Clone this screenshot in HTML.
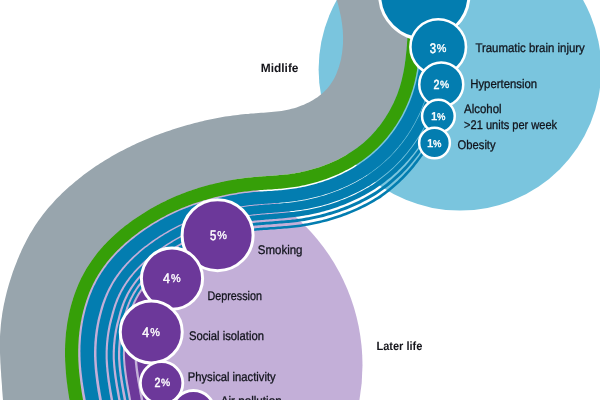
<!DOCTYPE html>
<html><head><meta charset="utf-8"><title>Risk factors</title>
<style>
html,body{margin:0;padding:0;background:#fff;}
body{width:600px;height:400px;overflow:hidden;font-family:"Liberation Sans",sans-serif;}
svg{display:block;}
text{text-rendering:geometricPrecision;}
</style></head><body>
<svg width="600" height="400" viewBox="0 0 600 400">
<rect width="600" height="400" fill="#fff"/>
<circle cx="164" cy="365.3" r="198.5" fill="#c3afd8"/>
<path d="M374.5,-8.9 L374.8,-7.4 L375.1,-5.9 L375.4,-4.4 L375.6,-2.9 L375.9,-1.4 L376.1,0.2 L376.3,1.7 L376.5,3.2 L376.7,4.8 L376.8,6.3 L377.0,7.9 L377.1,9.4 L377.2,11.0 L377.4,12.5 L377.4,14.1 L377.5,15.7 L377.6,17.2 L377.6,18.8 L377.7,20.4 L377.7,22.0 L377.7,23.6 L377.7,25.2 L377.7,26.8 L377.7,28.4 L377.7,30.0 L377.6,31.6 L377.6,33.3 L377.5,34.9 L377.4,36.5 L377.3,38.2 L377.2,39.8 L377.1,41.5 L377.0,43.2 L376.8,44.8 L376.7,46.5 L376.5,48.2 L376.4,49.8 L376.2,51.5 L376.0,53.1 L375.8,54.7 L375.6,56.3 L375.4,57.9 L375.2,59.5 L375.0,61.0 L374.7,62.5 L374.5,64.1 L374.2,65.6 L373.9,67.0 L373.6,68.5 L373.3,69.9 L372.9,71.4 L372.6,72.8 L372.2,74.1 L371.9,75.5 L371.5,76.9 L371.1,78.2 L370.6,79.5 L370.2,80.9 L369.7,82.2 L369.2,83.5 L368.7,84.8 L368.2,86.1 L367.6,87.4 L367.1,88.7 L366.5,90.0 L365.9,91.2 L365.3,92.5 L364.6,93.7 L364.0,95.0 L363.3,96.2 L362.6,97.4 L361.9,98.6 L361.1,99.8 L360.4,101.0 L359.6,102.1 L358.9,103.3 L358.1,104.4 L357.3,105.5 L356.4,106.7 L355.6,107.7 L354.7,108.8 L353.9,109.9 L353.0,110.9 L352.1,112.0 L351.2,113.0 L350.3,114.0 L349.3,114.9 L348.4,115.9 L347.4,116.8 L346.4,117.8 L345.5,118.7 L344.5,119.6 L343.4,120.4 L342.4,121.3 L341.3,122.1 L340.3,123.0 L339.2,123.8 L338.1,124.6 L336.9,125.4 L335.8,126.2 L334.6,126.9 L333.5,127.7 L332.3,128.4 L331.1,129.1 L329.8,129.9 L328.6,130.6 L327.4,131.2 L326.1,131.9 L324.8,132.6 L323.5,133.2 L322.2,133.8 L320.9,134.4 L319.5,135.0 L318.2,135.6 L316.8,136.1 L315.5,136.7 L314.1,137.2 L312.7,137.7 L311.3,138.2 L309.9,138.7 L308.5,139.2 L307.0,139.6 L305.6,140.1 L304.2,140.5 L302.7,140.9 L301.3,141.3 L299.8,141.6 L298.3,142.0 L296.8,142.3 L295.4,142.6 L293.9,142.9 L292.4,143.2 L290.9,143.5 L289.4,143.7 L287.9,144.0 L286.4,144.2 L284.9,144.4 L283.4,144.6 L281.8,144.8 L280.3,144.9 L278.7,145.1 L277.0,145.3 L275.4,145.4 L273.7,145.5 L272.0,145.7 L270.3,145.8 L268.5,145.9 L266.7,146.0 L264.9,146.1 L263.1,146.3 L261.2,146.4 L259.3,146.5 L257.4,146.7 L255.5,146.8 L253.5,147.0 L251.5,147.1 L249.5,147.3 L247.4,147.5 L245.4,147.7 L243.3,148.0 L241.2,148.2 L239.2,148.5 L237.1,148.8 L235.1,149.1 L233.1,149.4 L231.0,149.7 L229.0,150.0 L227.0,150.4 L224.9,150.7 L222.9,151.1 L220.9,151.5 L218.9,151.9 L216.9,152.3 L214.9,152.8 L212.9,153.2 L211.0,153.6 L209.0,154.1 L207.0,154.6 L205.0,155.1 L203.0,155.6 L201.1,156.1 L199.1,156.6 L197.1,157.2 L195.1,157.7 L193.2,158.3 L191.2,158.9 L189.2,159.5 L187.3,160.1 L185.3,160.7 L183.4,161.4 L181.4,162.0 L179.5,162.7 L177.5,163.4 L175.6,164.1 L173.6,164.8 L171.7,165.6 L169.8,166.3 L167.8,167.1 L165.9,167.9 L164.0,168.7 L162.1,169.5 L160.2,170.4 L158.3,171.2 L156.4,172.1 L154.5,173.0 L152.6,173.9 L150.7,174.8 L148.9,175.7 L147.0,176.6 L145.2,177.6 L143.3,178.6 L141.5,179.6 L139.7,180.6 L137.8,181.6 L136.0,182.6 L134.2,183.7 L132.4,184.7 L130.6,185.8 L128.9,186.9 L127.1,188.0 L125.3,189.1 L123.6,190.2 L121.8,191.4 L120.1,192.6 L118.3,193.8 L116.6,195.0 L114.9,196.2 L113.2,197.4 L111.5,198.7 L109.8,199.9 L108.1,201.2 L106.4,202.5 L104.7,203.8 L103.1,205.2 L101.4,206.5 L99.8,207.9 L98.2,209.3 L96.5,210.7 L94.9,212.2 L93.4,213.6 L91.8,215.1 L90.2,216.6 L88.7,218.1 L87.1,219.6 L85.6,221.2 L84.1,222.7 L82.6,224.3 L81.1,225.9 L79.6,227.5 L78.2,229.2 L76.8,230.8 L75.4,232.5 L74.0,234.2 L72.6,236.0 L71.2,237.7 L69.9,239.5 L68.6,241.3 L67.3,243.1 L66.0,244.9 L64.8,246.8 L63.6,248.6 L62.3,250.5 L61.2,252.5 L60.0,254.4 L58.9,256.3 L57.8,258.3 L56.7,260.3 L55.7,262.3 L54.7,264.3 L53.7,266.3 L52.7,268.3 L51.8,270.3 L50.9,272.4 L50.0,274.4 L49.2,276.5 L48.4,278.5 L47.6,280.6 L46.8,282.7 L46.1,284.7 L45.4,286.8 L44.7,288.9 L44.0,291.0 L43.4,293.1 L42.7,295.2 L42.2,297.4 L41.6,299.5 L41.1,301.6 L40.5,303.7 L40.1,305.9 L39.6,308.0 L39.1,310.1 L38.7,312.3 L38.3,314.4 L38.0,316.5 L37.6,318.7 L37.3,320.8 L37.0,323.0 L36.7,325.1 L36.4,327.3 L36.2,329.4 L36.0,331.5 L35.8,333.7 L35.6,335.8 L35.5,338.0 L35.3,340.1 L35.2,342.2 L35.1,344.4 L35.1,346.5 L35.0,348.6 L35.0,350.7 L35.0,352.8 L35.0,354.9 L35.0,357.0 L35.1,359.1 L35.1,361.1 L35.2,363.2 L35.3,365.3 L35.4,367.3 L35.6,369.4 L35.7,371.4 L35.8,373.5 L36.0,375.5 L36.2,377.5 L36.4,379.5 L36.6,381.5 L36.8,383.5 L37.1,385.5 L37.3,387.5 L37.6,389.5 L37.8,391.5 L38.1,393.5 L38.4,395.5 L38.7,397.4 L39.0,399.4 L39.3,401.3 L39.6,403.3 L39.9,405.2 L40.2,407.1 L40.6,409.1 L40.9,411.0 L41.3,412.9 L41.6,414.8 L42.0,416.7 L42.4,418.6 L42.7,420.5 L43.1,422.4 L43.5,424.3 L43.8,426.1 L44.2,428.0 L44.6,429.9 L45.0,431.7 L45.4,433.6 L45.8,435.4 L46.2,437.2 L46.6,439.1 L47.0,440.9 L47.3,442.7 L47.7,444.6 L48.1,446.4 L-20.0,440.0 L-20.0,-30.0 L374.5,-30.0Z" fill="#fff"/>
<circle cx="459.9" cy="69.3" r="141.3" fill="#7ac5de"/>
<path d="M332.4,-20.0 L332.8,-17.4 L333.2,-14.9 L333.7,-12.4 L334.3,-9.8 L334.9,-7.3 L335.5,-4.8 L336.2,-2.3 L336.8,0.2 L337.5,2.6 L338.2,5.1 L338.8,7.6 L339.4,10.1 L340.0,12.7 L340.6,15.2 L341.1,17.7 L341.5,20.2 L341.9,22.8 L342.2,25.3 L342.5,27.9 L342.8,30.5 L342.9,33.1 L343.0,35.6 L343.1,38.2 L343.0,40.8 L343.0,43.3 L342.8,45.9 L342.6,48.5 L342.3,51.0 L342.0,53.6 L341.5,56.2 L341.1,58.7 L340.5,61.2 L339.8,63.7 L339.1,66.2 L338.3,68.7 L337.4,71.1 L336.5,73.5 L335.4,75.9 L334.3,78.2 L333.0,80.4 L331.7,82.6 L330.2,84.7 L328.7,86.7 L327.1,88.7 L325.3,90.6 L323.5,92.3 L321.6,94.0 L319.6,95.6 L317.5,97.2 L315.3,98.6 L313.1,100.0 L310.9,101.3 L308.6,102.5 L306.2,103.6 L303.9,104.7 L301.5,105.6 L299.0,106.6 L296.6,107.4 L294.1,108.2 L291.6,108.8 L289.1,109.5 L286.6,110.0 L284.0,110.5 L281.5,110.9 L279.0,111.3 L276.4,111.6 L273.8,111.8 L271.3,112.1 L268.7,112.3 L266.1,112.5 L263.6,112.7 L261.0,112.8 L258.4,113.0 L255.9,113.2 L253.3,113.4 L250.7,113.6 L248.2,113.9 L245.6,114.1 L243.0,114.3 L240.5,114.6 L237.9,114.9 L235.4,115.2 L232.8,115.5 L230.2,115.9 L227.7,116.2 L225.2,116.6 L222.6,117.0 L220.1,117.5 L217.5,117.9 L215.0,118.4 L212.5,118.9 L209.9,119.5 L207.4,120.0 L204.9,120.6 L202.4,121.2 L199.9,121.8 L197.3,122.4 L194.8,123.0 L192.3,123.7 L189.8,124.4 L187.4,125.1 L184.9,125.8 L182.4,126.5 L179.9,127.3 L177.4,128.0 L175.0,128.8 L172.5,129.6 L170.1,130.4 L167.6,131.2 L165.2,132.1 L162.7,132.9 L160.3,133.8 L157.9,134.7 L155.5,135.6 L153.1,136.6 L150.7,137.5 L148.3,138.5 L145.9,139.5 L143.5,140.5 L141.2,141.5 L138.8,142.6 L136.5,143.6 L134.1,144.7 L131.8,145.8 L129.5,146.9 L127.2,148.1 L124.9,149.2 L122.6,150.4 L120.3,151.6 L118.0,152.8 L115.8,154.1 L113.5,155.3 L111.3,156.6 L109.1,157.9 L106.9,159.2 L104.7,160.6 L102.5,161.9 L100.3,163.3 L98.2,164.7 L96.0,166.1 L93.9,167.6 L91.8,169.0 L89.7,170.5 L87.6,172.0 L85.5,173.6 L83.4,175.1 L81.4,176.7 L79.4,178.3 L77.4,179.9 L75.3,181.5 L73.4,183.2 L71.4,184.9 L69.4,186.6 L67.5,188.3 L65.6,190.1 L63.7,191.8 L61.8,193.6 L60.0,195.4 L58.1,197.3 L56.3,199.1 L54.5,201.0 L52.8,202.9 L51.0,204.9 L49.3,206.8 L47.6,208.8 L46.0,210.8 L44.4,212.8 L42.8,214.8 L41.2,216.9 L39.7,219.0 L38.2,221.1 L36.7,223.2 L35.3,225.3 L33.9,227.5 L32.6,229.7 L31.2,231.9 L29.9,234.1 L28.7,236.3 L27.5,238.6 L26.2,240.9 L25.1,243.2 L23.9,245.5 L22.8,247.8 L21.7,250.1 L20.7,252.5 L19.6,254.8 L18.6,257.2 L17.6,259.6 L16.7,262.0 L15.7,264.4 L14.8,266.8 L13.9,269.2 L13.0,271.6 L12.2,274.1 L11.4,276.5 L10.6,279.0 L9.8,281.5 L9.0,283.9 L8.3,286.4 L7.6,288.9 L6.9,291.4 L6.3,293.9 L5.7,296.4 L5.1,298.9 L4.6,301.4 L4.0,304.0 L3.5,306.5 L3.1,309.0 L2.6,311.6 L2.2,314.1 L1.9,316.7 L1.5,319.2 L1.2,321.8 L0.9,324.3 L0.7,326.9 L0.5,329.5 L0.3,332.0 L0.1,334.6 L0.0,337.2 L-0.0,339.7 L-0.1,342.3 L-0.1,344.9 L-0.1,347.5 L-0.1,350.1 L0.0,352.7 L0.1,355.2 L0.2,357.8 L0.3,360.4 L0.4,363.0 L0.6,365.6 L0.7,368.2 L0.9,370.7 L1.1,373.3 L1.2,375.9 L1.4,378.5 L1.6,381.1 L1.8,383.6 L2.0,386.2 L2.1,388.8 L2.3,391.4 L2.5,393.9 L2.7,396.5 L2.9,399.1 L3.1,401.6 L3.4,404.2 L3.6,406.8 L3.8,409.3 L4.1,411.9 L4.4,414.4 L4.7,417.0 L4.9,419.6 L5.3,422.1 L5.6,424.7 L5.9,427.2 L6.3,429.8 L6.7,432.3 L7.1,434.9 L7.5,437.5 L8.0,440.0 L77.5,440.1 L77.1,438.3 L76.7,436.4 L76.3,434.6 L75.9,432.8 L75.5,431.0 L75.1,429.2 L74.7,427.4 L74.4,425.6 L74.0,423.8 L73.6,422.0 L73.2,420.1 L72.9,418.3 L72.5,416.5 L72.2,414.7 L71.8,412.9 L71.5,411.1 L71.1,409.3 L70.8,407.5 L70.4,405.6 L70.1,403.8 L69.8,402.0 L69.5,400.2 L69.2,398.4 L68.9,396.6 L68.6,394.7 L68.3,392.9 L68.1,391.1 L67.8,389.3 L67.5,387.5 L67.3,385.6 L67.1,383.8 L66.8,382.0 L66.6,380.2 L66.4,378.4 L66.2,376.5 L66.1,374.7 L65.9,372.9 L65.8,371.1 L65.6,369.2 L65.5,367.4 L65.4,365.6 L65.3,363.8 L65.2,361.9 L65.1,360.1 L65.1,358.3 L65.0,356.4 L65.0,354.6 L65.0,352.8 L65.0,350.9 L65.0,349.1 L65.1,347.3 L65.1,345.4 L65.2,343.6 L65.3,341.8 L65.4,339.9 L65.5,338.1 L65.7,336.2 L65.8,334.4 L66.0,332.6 L66.2,330.7 L66.5,328.9 L66.7,327.0 L67.0,325.2 L67.2,323.4 L67.5,321.5 L67.9,319.7 L68.2,317.9 L68.6,316.1 L68.9,314.2 L69.3,312.4 L69.7,310.6 L70.2,308.8 L70.6,307.0 L71.1,305.2 L71.6,303.4 L72.1,301.7 L72.7,299.9 L73.2,298.1 L73.8,296.4 L74.4,294.6 L75.0,292.9 L75.7,291.1 L76.3,289.4 L77.0,287.7 L77.7,286.0 L78.4,284.3 L79.2,282.6 L79.9,280.9 L80.7,279.3 L81.5,277.6 L82.4,276.0 L83.2,274.4 L84.1,272.8 L85.0,271.2 L85.9,269.6 L86.8,268.0 L87.8,266.4 L88.8,264.9 L89.8,263.4 L90.8,261.9 L91.8,260.4 L92.9,258.9 L94.0,257.4 L95.1,255.9 L96.2,254.5 L97.3,253.1 L98.5,251.6 L99.7,250.2 L100.9,248.8 L102.1,247.5 L103.3,246.1 L104.5,244.8 L105.8,243.4 L107.1,242.1 L108.4,240.8 L109.7,239.5 L111.0,238.2 L112.3,236.9 L113.7,235.7 L115.0,234.4 L116.4,233.2 L117.8,232.0 L119.2,230.8 L120.6,229.6 L122.0,228.4 L123.5,227.3 L124.9,226.1 L126.4,225.0 L127.9,223.9 L129.3,222.8 L130.8,221.7 L132.3,220.6 L133.8,219.5 L135.4,218.5 L136.9,217.4 L138.4,216.4 L140.0,215.4 L141.5,214.4 L143.1,213.4 L144.7,212.4 L146.2,211.4 L147.8,210.5 L149.4,209.5 L151.0,208.6 L152.6,207.7 L154.2,206.8 L155.8,205.9 L157.4,205.0 L159.1,204.2 L160.7,203.3 L162.3,202.5 L164.0,201.7 L165.7,200.9 L167.3,200.1 L169.0,199.3 L170.7,198.5 L172.3,197.8 L174.0,197.0 L175.7,196.3 L177.4,195.6 L179.1,194.9 L180.8,194.2 L182.5,193.6 L184.2,192.9 L185.9,192.3 L187.7,191.6 L189.4,191.0 L191.1,190.4 L192.9,189.8 L194.6,189.3 L196.4,188.7 L198.1,188.1 L199.9,187.6 L201.6,187.1 L203.4,186.6 L205.2,186.1 L207.0,185.6 L208.7,185.1 L210.5,184.6 L212.3,184.2 L214.1,183.7 L215.9,183.3 L217.7,182.9 L219.5,182.5 L221.3,182.1 L223.1,181.7 L224.9,181.3 L226.7,180.9 L228.6,180.6 L230.4,180.3 L232.2,179.9 L234.0,179.6 L235.8,179.3 L237.7,179.0 L239.5,178.7 L241.3,178.5 L243.1,178.2 L245.0,178.0 L246.8,177.8 L248.6,177.6 L250.5,177.4 L252.3,177.2 L254.1,177.0 L256.0,176.9 L257.8,176.7 L259.6,176.6 L261.4,176.5 L263.3,176.3 L265.1,176.2 L266.9,176.1 L268.7,176.0 L270.6,175.8 L272.4,175.7 L274.2,175.6 L276.0,175.4 L277.9,175.3 L279.7,175.1 L281.5,175.0 L283.3,174.8 L285.2,174.6 L287.0,174.4 L288.8,174.2 L290.6,173.9 L292.4,173.6 L294.3,173.4 L296.1,173.0 L297.9,172.7 L299.7,172.4 L301.5,172.0 L303.3,171.6 L305.1,171.2 L306.9,170.8 L308.7,170.3 L310.5,169.8 L312.3,169.3 L314.1,168.8 L315.9,168.3 L317.7,167.7 L319.4,167.2 L321.2,166.6 L322.9,165.9 L324.7,165.3 L326.4,164.6 L328.1,163.9 L329.8,163.2 L331.5,162.5 L333.2,161.8 L334.9,161.0 L336.6,160.2 L338.2,159.4 L339.9,158.6 L341.5,157.7 L343.1,156.8 L344.7,155.9 L346.3,155.0 L347.9,154.0 L349.4,153.1 L351.0,152.1 L352.5,151.1 L354.0,150.0 L355.5,149.0 L357.0,147.9 L358.5,146.8 L359.9,145.7 L361.4,144.5 L362.8,143.4 L364.2,142.2 L365.5,141.0 L366.9,139.7 L368.2,138.5 L369.5,137.2 L370.8,135.9 L372.1,134.6 L373.3,133.2 L374.6,131.8 L375.8,130.5 L376.9,129.1 L378.1,127.6 L379.3,126.2 L380.4,124.7 L381.5,123.3 L382.5,121.8 L383.6,120.3 L384.6,118.7 L385.6,117.2 L386.6,115.6 L387.6,114.1 L388.5,112.5 L389.4,110.9 L390.3,109.3 L391.2,107.6 L392.0,106.0 L392.9,104.3 L393.7,102.7 L394.4,101.0 L395.2,99.3 L395.9,97.6 L396.6,95.9 L397.3,94.2 L397.9,92.5 L398.5,90.7 L399.1,89.0 L399.7,87.2 L400.2,85.4 L400.7,83.7 L401.2,81.9 L401.7,80.1 L402.1,78.3 L402.5,76.5 L402.9,74.7 L403.3,72.9 L403.7,71.1 L404.0,69.3 L404.3,67.5 L404.6,65.7 L404.9,63.8 L405.1,62.0 L405.4,60.2 L405.6,58.3 L405.8,56.5 L406.0,54.7 L406.2,52.8 L406.4,51.0 L406.6,49.2 L406.7,47.3 L406.9,45.5 L407.0,43.6 L407.1,41.8 L407.3,40.0 L407.4,38.1 L407.5,36.3 L407.5,34.5 L407.6,32.6 L407.7,30.8 L407.7,28.9 L407.7,27.1 L407.7,25.3 L407.7,23.4 L407.7,21.6 L407.7,19.8 L407.6,17.9 L407.6,16.1 L407.5,14.3 L407.4,12.4 L407.3,10.6 L407.2,8.8 L407.0,6.9 L406.9,5.1 L406.7,3.3 L406.5,1.4 L406.3,-0.4 L406.0,-2.2 L405.8,-4.0 L405.5,-5.9 L405.2,-7.7 L404.9,-9.5 L404.6,-11.3 L404.3,-13.2 L403.9,-15.0Z" fill="#98a5ad"/>
<path d="M403.9,-15.0 L404.3,-13.2 L404.6,-11.3 L404.9,-9.5 L405.2,-7.7 L405.5,-5.9 L405.8,-4.0 L406.0,-2.2 L406.3,-0.4 L406.5,1.4 L406.7,3.3 L406.9,5.1 L407.0,6.9 L407.2,8.8 L407.3,10.6 L407.4,12.4 L407.5,14.3 L407.6,16.1 L407.6,17.9 L407.7,19.8 L407.7,21.6 L407.7,23.4 L407.7,25.3 L407.7,27.1 L407.7,28.9 L407.7,30.8 L407.6,32.6 L407.5,34.5 L407.5,36.3 L407.4,38.1 L407.3,40.0 L407.1,41.8 L407.0,43.6 L406.9,45.5 L406.7,47.3 L406.6,49.2 L406.4,51.0 L406.2,52.8 L406.0,54.7 L405.8,56.5 L405.6,58.3 L405.4,60.2 L405.1,62.0 L404.9,63.8 L404.6,65.7 L404.3,67.5 L404.0,69.3 L403.7,71.1 L403.3,72.9 L402.9,74.7 L402.5,76.5 L402.1,78.3 L401.7,80.1 L401.2,81.9 L400.7,83.7 L400.2,85.4 L399.7,87.2 L399.1,89.0 L398.5,90.7 L397.9,92.5 L397.3,94.2 L396.6,95.9 L395.9,97.6 L395.2,99.3 L394.4,101.0 L393.7,102.7 L392.9,104.3 L392.0,106.0 L391.2,107.6 L390.3,109.3 L389.4,110.9 L388.5,112.5 L387.6,114.1 L386.6,115.6 L385.6,117.2 L384.6,118.7 L383.6,120.3 L382.5,121.8 L381.5,123.3 L380.4,124.7 L379.3,126.2 L378.1,127.6 L376.9,129.1 L375.8,130.5 L374.6,131.8 L373.3,133.2 L372.1,134.6 L370.8,135.9 L369.5,137.2 L368.2,138.5 L366.9,139.7 L365.5,141.0 L364.2,142.2 L362.8,143.4 L361.4,144.5 L359.9,145.7 L358.5,146.8 L357.0,147.9 L355.5,149.0 L354.0,150.0 L352.5,151.1 L351.0,152.1 L349.4,153.1 L347.9,154.0 L346.3,155.0 L344.7,155.9 L343.1,156.8 L341.5,157.7 L339.9,158.6 L338.2,159.4 L336.6,160.2 L334.9,161.0 L333.2,161.8 L331.5,162.5 L329.8,163.2 L328.1,163.9 L326.4,164.6 L324.7,165.3 L322.9,165.9 L321.2,166.6 L319.4,167.2 L317.7,167.7 L315.9,168.3 L314.1,168.8 L312.3,169.3 L310.5,169.8 L308.7,170.3 L306.9,170.8 L305.1,171.2 L303.3,171.6 L301.5,172.0 L299.7,172.4 L297.9,172.7 L296.1,173.0 L294.3,173.4 L292.4,173.6 L290.6,173.9 L288.8,174.2 L287.0,174.4 L285.2,174.6 L283.3,174.8 L281.5,175.0 L279.7,175.1 L277.9,175.3 L276.0,175.4 L274.2,175.6 L272.4,175.7 L270.6,175.8 L268.7,176.0 L266.9,176.1 L265.1,176.2 L263.3,176.3 L261.4,176.5 L259.6,176.6 L257.8,176.7 L256.0,176.9 L254.1,177.0 L252.3,177.2 L250.5,177.4 L248.6,177.6 L246.8,177.8 L245.0,178.0 L243.1,178.2 L241.3,178.5 L239.5,178.7 L237.7,179.0 L235.8,179.3 L234.0,179.6 L232.2,179.9 L230.4,180.3 L228.6,180.6 L226.7,180.9 L224.9,181.3 L223.1,181.7 L221.3,182.1 L219.5,182.5 L217.7,182.9 L215.9,183.3 L214.1,183.7 L212.3,184.2 L210.5,184.6 L208.7,185.1 L207.0,185.6 L205.2,186.1 L203.4,186.6 L201.6,187.1 L199.9,187.6 L198.1,188.1 L196.4,188.7 L194.6,189.3 L192.9,189.8 L191.1,190.4 L189.4,191.0 L187.7,191.6 L185.9,192.3 L184.2,192.9 L182.5,193.6 L180.8,194.2 L179.1,194.9 L177.4,195.6 L175.7,196.3 L174.0,197.0 L172.3,197.8 L170.7,198.5 L169.0,199.3 L167.3,200.1 L165.7,200.9 L164.0,201.7 L162.3,202.5 L160.7,203.3 L159.1,204.2 L157.4,205.0 L155.8,205.9 L154.2,206.8 L152.6,207.7 L151.0,208.6 L149.4,209.5 L147.8,210.5 L146.2,211.4 L144.7,212.4 L143.1,213.4 L141.5,214.4 L140.0,215.4 L138.4,216.4 L136.9,217.4 L135.4,218.5 L133.8,219.5 L132.3,220.6 L130.8,221.7 L129.3,222.8 L127.9,223.9 L126.4,225.0 L124.9,226.1 L123.5,227.3 L122.0,228.4 L120.6,229.6 L119.2,230.8 L117.8,232.0 L116.4,233.2 L115.0,234.4 L113.7,235.7 L112.3,236.9 L111.0,238.2 L109.7,239.5 L108.4,240.8 L107.1,242.1 L105.8,243.4 L104.5,244.8 L103.3,246.1 L102.1,247.5 L100.9,248.8 L99.7,250.2 L98.5,251.6 L97.3,253.1 L96.2,254.5 L95.1,255.9 L94.0,257.4 L92.9,258.9 L91.8,260.4 L90.8,261.9 L89.8,263.4 L88.8,264.9 L87.8,266.4 L86.8,268.0 L85.9,269.6 L85.0,271.2 L84.1,272.8 L83.2,274.4 L82.4,276.0 L81.5,277.6 L80.7,279.3 L79.9,280.9 L79.2,282.6 L78.4,284.3 L77.7,286.0 L77.0,287.7 L76.3,289.4 L75.7,291.1 L75.0,292.9 L74.4,294.6 L73.8,296.4 L73.2,298.1 L72.7,299.9 L72.1,301.7 L71.6,303.4 L71.1,305.2 L70.6,307.0 L70.2,308.8 L69.7,310.6 L69.3,312.4 L68.9,314.2 L68.6,316.1 L68.2,317.9 L67.9,319.7 L67.5,321.5 L67.2,323.4 L67.0,325.2 L66.7,327.0 L66.5,328.9 L66.2,330.7 L66.0,332.6 L65.8,334.4 L65.7,336.2 L65.5,338.1 L65.4,339.9 L65.3,341.8 L65.2,343.6 L65.1,345.4 L65.1,347.3 L65.0,349.1 L65.0,350.9 L65.0,352.8 L65.0,354.6 L65.0,356.4 L65.1,358.3 L65.1,360.1 L65.2,361.9 L65.3,363.8 L65.4,365.6 L65.5,367.4 L65.6,369.2 L65.8,371.1 L65.9,372.9 L66.1,374.7 L66.2,376.5 L66.4,378.4 L66.6,380.2 L66.8,382.0 L67.1,383.8 L67.3,385.6 L67.5,387.5 L67.8,389.3 L68.1,391.1 L68.3,392.9 L68.6,394.7 L68.9,396.6 L69.2,398.4 L69.5,400.2 L69.8,402.0 L70.1,403.8 L70.4,405.6 L70.8,407.5 L71.1,409.3 L71.5,411.1 L71.8,412.9 L72.2,414.7 L72.5,416.5 L72.9,418.3 L73.2,420.1 L73.6,422.0 L74.0,423.8 L74.4,425.6 L74.7,427.4 L75.1,429.2 L75.5,431.0 L75.9,432.8 L76.3,434.6 L76.7,436.4 L77.1,438.3 L77.5,440.1 L90.6,437.2 L90.2,435.4 L89.8,433.6 L89.4,431.8 L89.0,430.0 L88.6,428.2 L88.2,426.4 L87.9,424.6 L87.5,422.8 L87.1,421.1 L86.7,419.3 L86.4,417.5 L86.0,415.7 L85.7,413.9 L85.3,412.1 L85.0,410.3 L84.6,408.6 L84.3,406.8 L84.0,405.0 L83.6,403.3 L83.3,401.5 L83.0,399.7 L82.7,398.0 L82.4,396.2 L82.1,394.4 L81.8,392.7 L81.5,390.9 L81.3,389.2 L81.0,387.4 L80.8,385.7 L80.5,383.9 L80.3,382.2 L80.1,380.4 L79.9,378.7 L79.7,377.0 L79.5,375.2 L79.3,373.5 L79.1,371.7 L79.0,370.0 L78.8,368.3 L78.7,366.6 L78.6,364.8 L78.5,363.1 L78.4,361.4 L78.3,359.6 L78.3,357.9 L78.2,356.2 L78.2,354.5 L78.2,352.8 L78.2,351.1 L78.2,349.3 L78.3,347.6 L78.3,345.9 L78.4,344.2 L78.5,342.5 L78.6,340.8 L78.7,339.1 L78.8,337.4 L79.0,335.7 L79.2,333.9 L79.3,332.2 L79.6,330.5 L79.8,328.8 L80.0,327.1 L80.3,325.4 L80.6,323.7 L80.8,322.0 L81.2,320.4 L81.5,318.7 L81.8,317.0 L82.2,315.3 L82.6,313.7 L83.0,312.0 L83.4,310.3 L83.9,308.7 L84.3,307.0 L84.8,305.4 L85.3,303.8 L85.8,302.2 L86.3,300.6 L86.9,299.0 L87.4,297.4 L88.0,295.8 L88.6,294.2 L89.2,292.6 L89.9,291.1 L90.5,289.6 L91.2,288.0 L91.9,286.5 L92.6,285.0 L93.3,283.5 L94.1,282.0 L94.9,280.6 L95.6,279.1 L96.4,277.7 L97.3,276.3 L98.1,274.8 L99.0,273.4 L99.9,272.1 L100.8,270.7 L101.7,269.3 L102.6,268.0 L103.6,266.6 L104.6,265.3 L105.6,264.0 L106.6,262.6 L107.6,261.3 L108.7,260.0 L109.7,258.8 L110.8,257.5 L111.9,256.2 L113.1,255.0 L114.2,253.8 L115.3,252.5 L116.5,251.3 L117.7,250.1 L118.9,248.9 L120.1,247.7 L121.4,246.6 L122.6,245.4 L123.9,244.2 L125.1,243.1 L126.4,242.0 L127.7,240.9 L129.1,239.8 L130.4,238.7 L131.7,237.6 L133.1,236.5 L134.4,235.5 L135.8,234.4 L137.2,233.4 L138.6,232.3 L140.0,231.3 L141.4,230.3 L142.9,229.3 L144.3,228.3 L145.7,227.4 L147.2,226.4 L148.7,225.5 L150.1,224.5 L151.6,223.6 L153.1,222.7 L154.6,221.8 L156.1,220.9 L157.6,220.1 L159.1,219.2 L160.6,218.3 L162.1,217.5 L163.7,216.7 L165.2,215.9 L166.7,215.1 L168.3,214.3 L169.8,213.5 L171.4,212.8 L173.0,212.0 L174.5,211.3 L176.1,210.6 L177.7,209.9 L179.3,209.2 L180.9,208.5 L182.5,207.8 L184.1,207.2 L185.7,206.5 L187.3,205.9 L188.9,205.3 L190.5,204.7 L192.2,204.1 L193.8,203.5 L195.4,203.0 L197.1,202.4 L198.7,201.9 L200.4,201.4 L202.1,200.9 L203.7,200.3 L205.4,199.9 L207.1,199.4 L208.8,198.9 L210.5,198.4 L212.2,198.0 L213.9,197.6 L215.6,197.1 L217.3,196.7 L219.0,196.3 L220.7,195.9 L222.4,195.5 L224.1,195.2 L225.9,194.8 L227.6,194.4 L229.3,194.1 L231.1,193.8 L232.8,193.5 L234.5,193.2 L236.3,192.9 L238.0,192.6 L239.7,192.3 L241.5,192.1 L243.2,191.8 L244.9,191.6 L246.7,191.4 L248.4,191.2 L250.1,191.0 L251.8,190.8 L253.6,190.6 L255.3,190.5 L257.1,190.3 L258.8,190.2 L260.6,190.1 L262.4,190.0 L264.2,189.8 L266.0,189.7 L267.8,189.6 L269.6,189.5 L271.5,189.4 L273.3,189.2 L275.2,189.1 L277.1,189.0 L279.0,188.8 L280.9,188.7 L282.8,188.5 L284.7,188.3 L286.7,188.1 L288.6,187.8 L290.6,187.6 L292.5,187.3 L294.5,187.0 L296.5,186.7 L298.4,186.4 L300.4,186.0 L302.3,185.6 L304.3,185.2 L306.3,184.8 L308.2,184.3 L310.2,183.8 L312.1,183.3 L314.0,182.8 L316.0,182.3 L317.9,181.7 L319.8,181.1 L321.7,180.5 L323.7,179.8 L325.6,179.2 L327.5,178.5 L329.4,177.8 L331.2,177.1 L333.1,176.3 L335.0,175.5 L336.8,174.7 L338.7,173.9 L340.5,173.0 L342.3,172.2 L344.1,171.3 L345.9,170.3 L347.7,169.4 L349.5,168.4 L351.3,167.4 L353.0,166.4 L354.8,165.3 L356.5,164.3 L358.2,163.2 L359.9,162.0 L361.6,160.9 L363.2,159.7 L364.9,158.5 L366.5,157.3 L368.1,156.0 L369.7,154.7 L371.2,153.4 L372.8,152.1 L374.3,150.7 L375.8,149.3 L377.3,147.9 L378.8,146.5 L380.2,145.0 L381.6,143.5 L383.0,142.0 L384.3,140.5 L385.7,139.0 L387.0,137.4 L388.3,135.8 L389.5,134.2 L390.8,132.6 L392.0,131.0 L393.2,129.3 L394.3,127.6 L395.5,125.9 L396.6,124.2 L397.7,122.5 L398.7,120.8 L399.8,119.0 L400.8,117.2 L401.8,115.5 L402.7,113.7 L403.6,111.8 L404.5,110.0 L405.4,108.2 L406.3,106.3 L407.1,104.5 L407.9,102.6 L408.7,100.7 L409.4,98.8 L410.1,96.9 L410.8,95.0 L411.4,93.1 L412.1,91.1 L412.7,89.2 L413.2,87.2 L413.8,85.3 L414.3,83.3 L414.8,81.3 L415.2,79.4 L415.6,77.4 L416.1,75.5 L416.4,73.5 L416.8,71.6 L417.1,69.6 L417.4,67.7 L417.7,65.7 L418.0,63.8 L418.3,61.8 L418.5,59.9 L418.7,58.0 L419.0,56.1 L419.2,54.1 L419.3,52.2 L419.5,50.3 L419.7,48.4 L419.8,46.5 L420.0,44.6 L420.1,42.7 L420.2,40.7 L420.3,38.8 L420.4,36.9 L420.5,35.0 L420.6,33.0 L420.6,31.1 L420.7,29.2 L420.7,27.2 L420.7,25.3 L420.7,23.4 L420.7,21.4 L420.7,19.5 L420.6,17.6 L420.6,15.6 L420.5,13.7 L420.4,11.7 L420.3,9.8 L420.1,7.8 L420.0,5.9 L419.8,3.9 L419.6,2.0 L419.4,0.0 L419.2,-1.9 L418.9,-3.9 L418.7,-5.9 L418.4,-7.8 L418.1,-9.8 L417.7,-11.7 L417.4,-13.7 L417.0,-15.7 L416.6,-17.6Z" fill="#369f08"/>
<path d="M418.1,-17.9 L418.5,-16.0 L418.9,-14.0 L419.2,-12.0 L419.6,-10.0 L419.9,-8.0 L420.2,-6.1 L420.4,-4.1 L420.7,-2.1 L420.9,-0.2 L421.1,1.8 L421.3,3.8 L421.5,5.7 L421.6,7.7 L421.8,9.7 L421.9,11.6 L422.0,13.6 L422.1,15.6 L422.1,17.5 L422.2,19.5 L422.2,21.4 L422.2,23.4 L422.2,25.3 L422.2,27.3 L422.2,29.2 L422.1,31.1 L422.1,33.1 L422.0,35.0 L421.9,37.0 L421.8,38.9 L421.7,40.8 L421.6,42.8 L421.5,44.7 L421.3,46.6 L421.2,48.5 L421.0,50.4 L420.8,52.4 L420.7,54.3 L420.5,56.2 L420.2,58.2 L420.0,60.1 L419.8,62.0 L419.5,64.0 L419.2,65.9 L418.9,67.9 L418.6,69.9 L418.3,71.8 L417.9,73.8 L417.5,75.8 L417.1,77.7 L416.7,79.7 L416.2,81.7 L415.7,83.7 L415.2,85.6 L414.7,87.6 L414.1,89.6 L413.5,91.6 L412.9,93.5 L412.2,95.5 L411.5,97.4 L410.8,99.3 L410.1,101.3 L409.3,103.2 L408.5,105.1 L407.6,106.9 L406.8,108.8 L405.9,110.7 L405.0,112.5 L404.0,114.4 L403.1,116.2 L402.1,118.0 L401.1,119.8 L400.0,121.5 L398.9,123.3 L397.8,125.0 L396.7,126.8 L395.6,128.5 L394.4,130.2 L393.2,131.8 L392.0,133.5 L390.7,135.1 L389.4,136.8 L388.1,138.4 L386.8,139.9 L385.5,141.5 L384.1,143.0 L382.7,144.6 L381.3,146.1 L379.8,147.5 L378.3,149.0 L376.8,150.4 L375.3,151.8 L373.8,153.2 L372.2,154.6 L370.6,155.9 L369.0,157.2 L367.4,158.5 L365.7,159.7 L364.1,160.9 L362.4,162.1 L360.7,163.3 L359.0,164.4 L357.3,165.5 L355.5,166.6 L353.8,167.7 L352.0,168.7 L350.2,169.7 L348.4,170.7 L346.6,171.7 L344.8,172.6 L343.0,173.5 L341.1,174.4 L339.3,175.3 L337.4,176.1 L335.6,176.9 L333.7,177.7 L331.8,178.5 L329.9,179.2 L328.0,179.9 L326.1,180.6 L324.1,181.3 L322.2,181.9 L320.3,182.5 L318.3,183.1 L316.4,183.7 L314.4,184.3 L312.5,184.8 L310.5,185.3 L308.5,185.8 L306.6,186.2 L304.6,186.7 L302.6,187.1 L300.7,187.5 L298.7,187.8 L296.7,188.2 L294.7,188.5 L292.7,188.8 L290.7,189.1 L288.8,189.3 L286.8,189.6 L284.9,189.8 L282.9,190.0 L281.0,190.2 L279.1,190.3 L277.2,190.5 L275.3,190.6 L273.5,190.8 L271.6,190.9 L269.7,191.0 L267.9,191.1 L266.1,191.2 L264.3,191.3 L262.5,191.5 L260.7,191.6 L258.9,191.7 L257.2,191.9 L255.4,192.0 L253.7,192.1 L252.0,192.3 L250.3,192.5 L248.6,192.7 L246.8,192.9 L245.1,193.1 L243.4,193.3 L241.7,193.6 L240.0,193.8 L238.2,194.1 L236.5,194.4 L234.8,194.7 L233.1,195.0 L231.4,195.3 L229.6,195.6 L227.9,196.0 L226.2,196.3 L224.5,196.7 L222.8,197.1 L221.0,197.4 L219.3,197.8 L217.6,198.2 L215.9,198.6 L214.2,199.1 L212.6,199.5 L210.9,200.0 L209.2,200.4 L207.5,200.9 L205.9,201.4 L204.2,201.9 L202.5,202.4 L200.9,202.9 L199.2,203.4 L197.6,203.9 L196.0,204.5 L194.3,205.0 L192.7,205.6 L191.1,206.2 L189.5,206.8 L187.9,207.4 L186.3,208.0 L184.7,208.7 L183.1,209.3 L181.5,210.0 L179.9,210.6 L178.3,211.3 L176.8,212.0 L175.2,212.7 L173.6,213.5 L172.1,214.2 L170.5,215.0 L169.0,215.7 L167.5,216.5 L165.9,217.3 L164.4,218.1 L162.9,219.0 L161.4,219.8 L159.9,220.6 L158.4,221.5 L156.9,222.4 L155.4,223.2 L154.0,224.1 L152.5,225.0 L151.0,226.0 L149.6,226.9 L148.1,227.8 L146.7,228.8 L145.2,229.8 L143.8,230.7 L142.4,231.7 L141.0,232.7 L139.6,233.7 L138.2,234.8 L136.9,235.8 L135.5,236.8 L134.2,237.9 L132.8,239.0 L131.5,240.0 L130.2,241.1 L128.9,242.2 L127.6,243.3 L126.3,244.4 L125.1,245.6 L123.8,246.7 L122.6,247.9 L121.4,249.0 L120.2,250.2 L119.0,251.4 L117.8,252.6 L116.7,253.8 L115.5,255.0 L114.4,256.2 L113.3,257.5 L112.2,258.7 L111.1,260.0 L110.1,261.2 L109.0,262.5 L108.0,263.8 L107.0,265.1 L106.1,266.4 L105.1,267.7 L104.1,269.0 L103.2,270.4 L102.3,271.7 L101.4,273.1 L100.6,274.4 L99.7,275.8 L98.9,277.2 L98.1,278.6 L97.3,280.0 L96.5,281.5 L95.8,282.9 L95.1,284.4 L94.3,285.8 L93.6,287.3 L93.0,288.8 L92.3,290.3 L91.7,291.9 L91.0,293.4 L90.4,294.9 L89.8,296.5 L89.3,298.0 L88.7,299.6 L88.2,301.2 L87.7,302.8 L87.2,304.4 L86.7,306.0 L86.2,307.6 L85.8,309.2 L85.4,310.8 L85.0,312.5 L84.6,314.1 L84.2,315.8 L83.8,317.4 L83.5,319.1 L83.2,320.7 L82.9,322.4 L82.6,324.1 L82.4,325.8 L82.1,327.4 L81.9,329.1 L81.7,330.8 L81.5,332.5 L81.3,334.2 L81.1,335.9 L81.0,337.5 L80.9,339.2 L80.8,340.9 L80.7,342.6 L80.6,344.3 L80.5,346.0 L80.5,347.7 L80.5,349.4 L80.4,351.1 L80.5,352.8 L80.5,354.5 L80.5,356.2 L80.6,357.9 L80.6,359.6 L80.7,361.3 L80.8,363.0 L80.9,364.7 L81.0,366.4 L81.2,368.1 L81.3,369.8 L81.5,371.5 L81.7,373.3 L81.9,375.0 L82.1,376.7 L82.3,378.4 L82.5,380.1 L82.7,381.9 L83.0,383.6 L83.2,385.3 L83.5,387.1 L83.8,388.8 L84.1,390.5 L84.3,392.3 L84.6,394.0 L85.0,395.8 L85.3,397.5 L85.6,399.3 L85.9,401.0 L86.2,402.8 L86.5,404.6 L86.8,406.3 L87.2,408.1 L87.5,409.9 L87.9,411.6 L88.2,413.4 L88.6,415.2 L88.9,417.0 L89.3,418.7 L89.7,420.5 L90.0,422.3 L90.4,424.1 L90.8,425.9 L91.2,427.7 L91.5,429.5 L91.9,431.3 L92.3,433.1 L92.7,434.9 L93.1,436.7 L106.0,433.9 L105.6,432.1 L105.2,430.3 L104.8,428.5 L104.5,426.7 L104.1,424.9 L103.7,423.2 L103.3,421.4 L103.0,419.6 L102.6,417.8 L102.2,416.1 L101.9,414.3 L101.5,412.6 L101.2,410.8 L100.8,409.1 L100.5,407.3 L100.1,405.6 L99.8,403.9 L99.5,402.2 L99.2,400.4 L98.9,398.7 L98.6,397.0 L98.3,395.3 L98.0,393.6 L97.7,391.9 L97.4,390.2 L97.2,388.6 L96.9,386.9 L96.7,385.2 L96.4,383.5 L96.2,381.9 L96.0,380.2 L95.8,378.6 L95.6,376.9 L95.4,375.3 L95.2,373.6 L95.0,372.0 L94.9,370.4 L94.7,368.8 L94.6,367.1 L94.5,365.5 L94.4,363.9 L94.3,362.3 L94.2,360.7 L94.1,359.1 L94.1,357.5 L94.0,355.9 L94.0,354.3 L94.0,352.8 L94.0,351.2 L94.1,349.6 L94.1,348.0 L94.2,346.5 L94.3,344.9 L94.3,343.4 L94.4,341.8 L94.6,340.3 L94.7,338.7 L94.9,337.2 L95.0,335.6 L95.2,334.1 L95.4,332.5 L95.6,331.0 L95.8,329.5 L96.1,327.9 L96.3,326.4 L96.6,324.9 L96.9,323.4 L97.2,321.9 L97.5,320.3 L97.9,318.8 L98.2,317.3 L98.6,315.9 L99.0,314.4 L99.4,312.9 L99.8,311.4 L100.2,310.0 L100.6,308.5 L101.0,307.1 L101.5,305.6 L101.9,304.2 L102.4,302.8 L102.9,301.4 L103.4,300.0 L104.0,298.6 L104.5,297.2 L105.1,295.9 L105.6,294.5 L106.2,293.2 L106.8,291.9 L107.5,290.5 L108.1,289.2 L108.7,288.0 L109.4,286.7 L110.1,285.4 L110.8,284.2 L111.5,283.0 L112.2,281.7 L113.0,280.5 L113.7,279.3 L114.5,278.1 L115.3,276.9 L116.1,275.7 L117.0,274.5 L117.9,273.4 L118.7,272.2 L119.6,271.0 L120.6,269.9 L121.5,268.7 L122.4,267.6 L123.4,266.4 L124.4,265.3 L125.4,264.2 L126.4,263.1 L127.5,262.0 L128.5,260.9 L129.6,259.8 L130.7,258.7 L131.8,257.6 L132.9,256.6 L134.0,255.5 L135.2,254.4 L136.3,253.4 L137.5,252.4 L138.7,251.3 L139.9,250.3 L141.1,249.3 L142.3,248.3 L143.6,247.3 L144.8,246.3 L146.1,245.4 L147.4,244.4 L148.7,243.4 L150.0,242.5 L151.3,241.6 L152.6,240.6 L153.9,239.7 L155.3,238.8 L156.6,237.9 L158.0,237.0 L159.4,236.1 L160.7,235.3 L162.1,234.4 L163.5,233.6 L164.9,232.8 L166.3,231.9 L167.7,231.1 L169.1,230.3 L170.5,229.5 L171.9,228.8 L173.4,228.0 L174.8,227.3 L176.2,226.5 L177.7,225.8 L179.1,225.1 L180.6,224.4 L182.0,223.7 L183.5,223.0 L185.0,222.4 L186.5,221.7 L188.0,221.1 L189.5,220.5 L191.0,219.9 L192.5,219.3 L194.0,218.7 L195.5,218.1 L197.0,217.6 L198.5,217.0 L200.1,216.5 L201.6,216.0 L203.2,215.5 L204.7,215.0 L206.3,214.5 L207.9,214.0 L209.4,213.5 L211.0,213.1 L212.6,212.6 L214.2,212.2 L215.8,211.7 L217.4,211.3 L219.0,210.9 L220.6,210.5 L222.3,210.1 L223.9,209.7 L225.5,209.4 L227.2,209.0 L228.8,208.6 L230.4,208.3 L232.1,208.0 L233.7,207.7 L235.3,207.3 L237.0,207.0 L238.6,206.8 L240.3,206.5 L241.9,206.2 L243.5,206.0 L245.2,205.7 L246.8,205.5 L248.4,205.3 L250.0,205.1 L251.6,204.9 L253.3,204.8 L254.9,204.6 L256.5,204.4 L258.2,204.3 L259.9,204.2 L261.6,204.0 L263.4,203.9 L265.1,203.8 L266.9,203.7 L268.7,203.5 L270.6,203.4 L272.4,203.3 L274.3,203.1 L276.2,203.0 L278.2,202.9 L280.1,202.7 L282.1,202.5 L284.1,202.4 L286.1,202.2 L288.2,202.0 L290.3,201.7 L292.4,201.5 L294.5,201.2 L296.6,200.9 L298.7,200.6 L300.8,200.2 L303.0,199.8 L305.1,199.4 L307.2,199.0 L309.3,198.6 L311.4,198.1 L313.5,197.6 L315.6,197.1 L317.8,196.5 L319.9,196.0 L321.9,195.4 L324.0,194.8 L326.1,194.1 L328.2,193.4 L330.3,192.7 L332.4,192.0 L334.4,191.3 L336.5,190.5 L338.5,189.7 L340.6,188.8 L342.6,188.0 L344.6,187.1 L346.6,186.2 L348.7,185.2 L350.6,184.3 L352.6,183.3 L354.6,182.3 L356.6,181.2 L358.5,180.1 L360.5,179.0 L362.4,177.9 L364.3,176.7 L366.2,175.5 L368.1,174.2 L369.9,173.0 L371.8,171.7 L373.6,170.3 L375.4,169.0 L377.2,167.6 L379.0,166.2 L380.8,164.7 L382.5,163.2 L384.2,161.7 L385.9,160.1 L387.6,158.6 L389.2,157.0 L390.8,155.4 L392.4,153.7 L393.9,152.0 L395.4,150.3 L396.9,148.6 L398.4,146.9 L399.8,145.1 L401.3,143.4 L402.6,141.6 L404.0,139.7 L405.3,137.9 L406.6,136.1 L407.9,134.2 L409.1,132.3 L410.3,130.4 L411.5,128.4 L412.6,126.5 L413.8,124.5 L414.9,122.6 L415.9,120.6 L416.9,118.6 L417.9,116.5 L418.9,114.5 L419.9,112.5 L420.8,110.4 L421.7,108.3 L422.5,106.2 L423.3,104.1 L424.1,102.0 L424.9,99.9 L425.6,97.7 L426.3,95.6 L426.9,93.4 L427.6,91.3 L428.2,89.1 L428.7,87.0 L429.3,84.8 L429.8,82.7 L430.2,80.5 L430.7,78.4 L431.1,76.3 L431.5,74.2 L431.8,72.1 L432.2,70.0 L432.5,67.9 L432.8,65.8 L433.1,63.8 L433.3,61.7 L433.6,59.7 L433.8,57.6 L434.0,55.6 L434.2,53.6 L434.4,51.6 L434.5,49.6 L434.7,47.6 L434.8,45.6 L435.0,43.6 L435.1,41.6 L435.2,39.6 L435.3,37.6 L435.4,35.5 L435.5,33.5 L435.5,31.5 L435.6,29.4 L435.6,27.4 L435.6,25.4 L435.6,23.3 L435.6,21.2 L435.6,19.2 L435.5,17.1 L435.5,15.0 L435.4,13.0 L435.3,10.9 L435.1,8.8 L435.0,6.7 L434.8,4.6 L434.6,2.6 L434.4,0.5 L434.2,-1.6 L434.0,-3.7 L433.7,-5.8 L433.4,-8.0 L433.1,-10.1 L432.8,-12.2 L432.4,-14.3 L432.0,-16.4 L431.6,-18.5 L431.2,-20.6Z" fill="#037db0"/>
<path d="M431.8,-20.8 L432.2,-18.6 L432.6,-16.5 L433.0,-14.4 L433.4,-12.3 L433.7,-10.2 L434.0,-8.0 L434.3,-5.9 L434.6,-3.8 L434.8,-1.7 L435.0,0.4 L435.2,2.5 L435.4,4.6 L435.6,6.7 L435.7,8.8 L435.9,10.9 L436.0,12.9 L436.1,15.0 L436.1,17.1 L436.2,19.2 L436.2,21.2 L436.2,23.3 L436.2,25.4 L436.2,27.4 L436.2,29.5 L436.1,31.5 L436.1,33.5 L436.0,35.6 L435.9,37.6 L435.8,39.6 L435.7,41.7 L435.6,43.7 L435.4,45.7 L435.3,47.7 L435.1,49.7 L435.0,51.7 L434.8,53.7 L434.6,55.7 L434.4,57.7 L434.1,59.7 L433.9,61.8 L433.6,63.8 L433.4,65.9 L433.1,68.0 L432.8,70.1 L432.4,72.2 L432.1,74.3 L431.7,76.4 L431.3,78.5 L430.8,80.7 L430.3,82.8 L429.8,84.9 L429.3,87.1 L428.8,89.3 L428.2,91.4 L427.5,93.6 L426.9,95.8 L426.2,97.9 L425.4,100.1 L424.7,102.2 L423.9,104.3 L423.1,106.4 L422.2,108.5 L421.3,110.6 L420.4,112.7 L419.5,114.8 L418.5,116.8 L417.5,118.8 L416.4,120.8 L415.4,122.8 L414.3,124.8 L413.2,126.8 L412.0,128.8 L410.8,130.7 L409.6,132.6 L408.4,134.5 L407.1,136.4 L405.8,138.3 L404.5,140.1 L403.1,141.9 L401.7,143.7 L400.3,145.5 L398.8,147.3 L397.4,149.0 L395.9,150.7 L394.3,152.4 L392.8,154.1 L391.2,155.7 L389.6,157.4 L387.9,159.0 L386.3,160.5 L384.6,162.1 L382.8,163.6 L381.1,165.1 L379.3,166.6 L377.5,168.0 L375.7,169.4 L373.9,170.7 L372.1,172.1 L370.2,173.4 L368.4,174.7 L366.5,175.9 L364.6,177.1 L362.7,178.3 L360.7,179.4 L358.8,180.6 L356.8,181.7 L354.9,182.7 L352.9,183.8 L350.9,184.8 L348.9,185.8 L346.9,186.7 L344.9,187.6 L342.8,188.5 L340.8,189.4 L338.8,190.2 L336.7,191.1 L334.6,191.8 L332.6,192.6 L330.5,193.3 L328.4,194.0 L326.3,194.7 L324.2,195.4 L322.1,196.0 L320.0,196.6 L317.9,197.2 L315.8,197.8 L313.7,198.3 L311.6,198.8 L309.5,199.3 L307.3,199.7 L305.2,200.2 L303.1,200.6 L301.0,200.9 L298.8,201.3 L296.7,201.6 L294.6,201.9 L292.5,202.2 L290.4,202.5 L288.3,202.7 L286.2,202.9 L284.2,203.1 L282.2,203.3 L280.2,203.5 L278.2,203.7 L276.3,203.8 L274.4,204.0 L272.5,204.1 L270.6,204.3 L268.8,204.4 L267.0,204.5 L265.2,204.6 L263.4,204.8 L261.7,204.9 L260.0,205.1 L258.3,205.2 L256.6,205.4 L255.0,205.5 L253.3,205.7 L251.7,205.9 L250.1,206.1 L248.5,206.3 L246.9,206.5 L245.3,206.7 L243.7,206.9 L242.0,207.2 L240.4,207.5 L238.8,207.8 L237.2,208.0 L235.5,208.4 L233.9,208.7 L232.3,209.0 L230.6,209.3 L229.0,209.7 L227.4,210.0 L225.7,210.4 L224.1,210.8 L222.5,211.2 L220.9,211.6 L219.3,212.0 L217.7,212.4 L216.1,212.8 L214.5,213.3 L212.9,213.7 L211.3,214.2 L209.8,214.6 L208.2,215.1 L206.6,215.6 L205.1,216.1 L203.5,216.6 L202.0,217.1 L200.5,217.6 L198.9,218.2 L197.4,218.7 L195.9,219.3 L194.4,219.9 L192.9,220.5 L191.4,221.0 L189.9,221.7 L188.4,222.3 L187.0,222.9 L185.5,223.5 L184.0,224.2 L182.6,224.9 L181.1,225.6 L179.7,226.3 L178.2,227.0 L176.8,227.7 L175.4,228.5 L174.0,229.2 L172.6,230.0 L171.2,230.8 L169.8,231.6 L168.4,232.4 L167.0,233.2 L165.6,234.0 L164.2,234.8 L162.9,235.7 L161.5,236.5 L160.1,237.4 L158.8,238.3 L157.5,239.2 L156.1,240.1 L154.8,241.0 L153.5,241.9 L152.2,242.9 L150.9,243.8 L149.6,244.7 L148.3,245.7 L147.1,246.7 L145.8,247.6 L144.6,248.6 L143.4,249.6 L142.1,250.6 L141.0,251.6 L139.8,252.6 L138.6,253.7 L137.4,254.7 L136.3,255.7 L135.2,256.8 L134.1,257.8 L133.0,258.9 L131.9,260.0 L130.8,261.1 L129.8,262.1 L128.8,263.2 L127.7,264.3 L126.7,265.4 L125.8,266.6 L124.8,267.7 L123.9,268.8 L122.9,269.9 L122.0,271.1 L121.1,272.2 L120.2,273.4 L119.4,274.5 L118.6,275.7 L117.7,276.9 L116.9,278.0 L116.2,279.2 L115.4,280.4 L114.7,281.6 L113.9,282.8 L113.2,284.0 L112.5,285.2 L111.9,286.4 L111.2,287.7 L110.6,288.9 L109.9,290.2 L109.3,291.5 L108.7,292.8 L108.2,294.1 L107.6,295.4 L107.0,296.7 L106.5,298.1 L106.0,299.4 L105.5,300.8 L105.0,302.2 L104.5,303.5 L104.0,304.9 L103.6,306.4 L103.2,307.8 L102.8,309.2 L102.4,310.6 L102.0,312.1 L101.6,313.5 L101.2,315.0 L100.8,316.4 L100.5,317.9 L100.1,319.4 L99.8,320.8 L99.5,322.3 L99.2,323.8 L98.9,325.3 L98.7,326.8 L98.4,328.3 L98.2,329.8 L98.0,331.3 L97.8,332.8 L97.6,334.4 L97.4,335.9 L97.2,337.4 L97.1,338.9 L97.0,340.5 L96.9,342.0 L96.8,343.5 L96.7,345.0 L96.6,346.6 L96.6,348.1 L96.5,349.7 L96.5,351.2 L96.5,352.8 L96.5,354.3 L96.5,355.9 L96.6,357.4 L96.6,359.0 L96.7,360.6 L96.8,362.2 L96.9,363.8 L97.0,365.4 L97.1,366.9 L97.3,368.5 L97.4,370.2 L97.6,371.8 L97.8,373.4 L98.0,375.0 L98.2,376.6 L98.4,378.3 L98.6,379.9 L98.9,381.5 L99.1,383.2 L99.3,384.8 L99.6,386.5 L99.9,388.2 L100.2,389.8 L100.4,391.5 L100.7,393.2 L101.0,394.9 L101.3,396.5 L101.6,398.2 L101.9,399.9 L102.2,401.7 L102.6,403.4 L102.9,405.1 L103.2,406.8 L103.6,408.5 L103.9,410.3 L104.3,412.0 L104.6,413.8 L105.0,415.5 L105.3,417.3 L105.7,419.0 L106.1,420.8 L106.4,422.6 L106.8,424.4 L107.2,426.1 L107.6,427.9 L108.0,429.7 L108.3,431.5 L108.7,433.3 L117.1,431.5 L116.8,429.7 L116.4,427.9 L116.0,426.1 L115.6,424.3 L115.2,422.6 L114.9,420.8 L114.5,419.0 L114.1,417.3 L113.7,415.5 L113.4,413.8 L113.0,412.1 L112.7,410.3 L112.3,408.6 L112.0,406.9 L111.7,405.2 L111.3,403.5 L111.0,401.8 L110.7,400.1 L110.4,398.4 L110.1,396.7 L109.8,395.1 L109.5,393.4 L109.2,391.8 L109.0,390.1 L108.7,388.5 L108.5,386.9 L108.2,385.2 L108.0,383.6 L107.7,382.0 L107.5,380.4 L107.3,378.8 L107.1,377.2 L106.9,375.6 L106.8,374.1 L106.6,372.5 L106.4,370.9 L106.3,369.4 L106.2,367.8 L106.0,366.3 L105.9,364.8 L105.8,363.2 L105.7,361.7 L105.7,360.2 L105.6,358.7 L105.6,357.2 L105.6,355.7 L105.6,354.2 L105.6,352.8 L105.6,351.3 L105.7,349.8 L105.7,348.4 L105.8,346.9 L105.9,345.5 L106.0,344.0 L106.1,342.6 L106.2,341.1 L106.4,339.7 L106.5,338.3 L106.7,336.9 L106.9,335.4 L107.1,334.0 L107.3,332.6 L107.5,331.2 L107.8,329.8 L108.0,328.4 L108.3,327.0 L108.6,325.6 L108.9,324.2 L109.2,322.8 L109.5,321.5 L109.9,320.1 L110.2,318.7 L110.6,317.4 L111.0,316.1 L111.3,314.7 L111.6,313.4 L112.0,312.0 L112.4,310.7 L112.8,309.4 L113.2,308.1 L113.6,306.8 L114.0,305.6 L114.4,304.3 L114.9,303.0 L115.4,301.8 L115.8,300.6 L116.3,299.3 L116.8,298.1 L117.4,296.9 L117.9,295.7 L118.4,294.6 L119.0,293.4 L119.6,292.3 L120.2,291.2 L120.7,290.0 L121.4,288.9 L122.0,287.8 L122.6,286.8 L123.3,285.7 L124.0,284.6 L124.7,283.5 L125.4,282.4 L126.1,281.3 L126.9,280.3 L127.7,279.2 L128.5,278.1 L129.3,277.1 L130.1,276.0 L131.0,275.0 L131.8,273.9 L132.7,272.9 L133.6,271.8 L134.5,270.8 L135.5,269.8 L136.4,268.7 L137.4,267.7 L138.4,266.7 L139.4,265.7 L140.4,264.7 L141.4,263.7 L142.5,262.7 L143.5,261.7 L144.6,260.7 L145.7,259.8 L146.8,258.8 L147.9,257.8 L149.1,256.9 L150.2,255.9 L151.4,255.0 L152.6,254.1 L153.7,253.2 L154.9,252.2 L156.2,251.3 L157.4,250.4 L158.6,249.5 L159.9,248.6 L161.1,247.8 L162.4,246.9 L163.7,246.0 L164.9,245.2 L166.2,244.3 L167.5,243.5 L168.8,242.7 L170.1,241.9 L171.4,241.1 L172.8,240.3 L174.1,239.5 L175.4,238.8 L176.8,238.0 L178.1,237.3 L179.5,236.6 L180.8,235.8 L182.2,235.1 L183.5,234.4 L184.9,233.7 L186.3,233.1 L187.7,232.4 L189.1,231.8 L190.5,231.2 L191.9,230.6 L193.3,230.0 L194.7,229.4 L196.1,228.8 L197.6,228.2 L199.0,227.7 L200.4,227.1 L201.9,226.6 L203.4,226.1 L204.8,225.6 L206.3,225.1 L207.8,224.6 L209.3,224.1 L210.8,223.6 L212.3,223.2 L213.8,222.7 L215.3,222.3 L216.8,221.8 L218.4,221.4 L219.9,221.0 L221.4,220.6 L223.0,220.2 L224.5,219.8 L226.1,219.4 L227.7,219.0 L229.2,218.6 L230.8,218.3 L232.4,217.9 L234.0,217.6 L235.5,217.3 L237.1,217.0 L238.7,216.7 L240.3,216.4 L241.8,216.1 L243.4,215.9 L244.9,215.6 L246.5,215.4 L248.1,215.1 L249.6,214.9 L251.1,214.7 L252.7,214.5 L254.2,214.3 L255.8,214.2 L257.4,214.0 L259.0,213.9 L260.6,213.7 L262.3,213.6 L264.0,213.4 L265.8,213.3 L267.6,213.1 L269.4,213.0 L271.2,212.9 L273.1,212.7 L275.0,212.6 L276.9,212.4 L278.9,212.3 L280.9,212.1 L282.9,211.9 L285.0,211.7 L287.1,211.6 L289.2,211.4 L291.4,211.1 L293.6,210.9 L295.8,210.6 L298.0,210.3 L300.3,210.0 L302.5,209.7 L304.7,209.3 L307.0,208.9 L309.2,208.5 L311.4,208.0 L313.6,207.6 L315.9,207.1 L318.1,206.5 L320.3,206.0 L322.5,205.4 L324.7,204.8 L326.9,204.2 L329.1,203.5 L331.3,202.8 L333.5,202.1 L335.7,201.3 L337.9,200.6 L340.1,199.8 L342.3,198.9 L344.4,198.1 L346.6,197.2 L348.8,196.3 L350.9,195.3 L353.0,194.3 L355.2,193.3 L357.3,192.3 L359.4,191.2 L361.5,190.1 L363.6,189.0 L365.7,187.8 L367.7,186.6 L369.8,185.4 L371.8,184.1 L373.8,182.8 L375.8,181.4 L377.8,180.0 L379.7,178.6 L381.7,177.1 L383.6,175.6 L385.5,174.1 L387.4,172.5 L389.2,170.9 L391.1,169.3 L392.9,167.7 L394.7,166.0 L396.4,164.2 L398.1,162.5 L399.8,160.7 L401.5,158.9 L403.1,157.1 L404.7,155.3 L406.3,153.4 L407.8,151.6 L409.3,149.6 L410.8,147.7 L412.2,145.8 L413.6,143.8 L415.0,141.8 L416.4,139.8 L417.7,137.8 L419.0,135.8 L420.2,133.7 L421.5,131.6 L422.7,129.5 L423.8,127.4 L425.0,125.3 L426.1,123.2 L427.1,121.0 L428.2,118.8 L429.2,116.6 L430.1,114.4 L431.1,112.2 L432.0,110.0 L432.9,107.7 L433.7,105.5 L434.5,103.2 L435.3,100.9 L436.0,98.7 L436.7,96.4 L437.4,94.0 L438.0,91.7 L438.6,89.5 L439.2,87.2 L439.7,84.9 L440.2,82.7 L440.7,80.4 L441.1,78.2 L441.5,76.0 L441.9,73.8 L442.2,71.6 L442.6,69.4 L442.9,67.2 L443.2,65.1 L443.4,62.9 L443.7,60.8 L443.9,58.7 L444.1,56.7 L444.3,54.6 L444.5,52.5 L444.7,50.5 L444.9,48.4 L445.0,46.4 L445.2,44.3 L445.3,42.2 L445.4,40.1 L445.5,38.0 L445.6,35.9 L445.7,33.8 L445.7,31.7 L445.8,29.6 L445.8,27.5 L445.8,25.4 L445.8,23.2 L445.8,21.1 L445.8,19.0 L445.7,16.8 L445.6,14.7 L445.6,12.5 L445.4,10.3 L445.3,8.2 L445.2,6.0 L445.0,3.8 L444.8,1.6 L444.6,-0.6 L444.4,-2.8 L444.1,-5.0 L443.8,-7.2 L443.5,-9.4 L443.2,-11.6 L442.9,-13.8 L442.5,-16.0 L442.1,-18.3 L441.7,-20.5 L441.2,-22.7Z" fill="#037db0"/>
<path d="M441.9,-22.9 L442.3,-20.6 L442.8,-18.4 L443.2,-16.2 L443.5,-13.9 L443.9,-11.7 L444.2,-9.5 L444.5,-7.3 L444.8,-5.1 L445.1,-2.8 L445.3,-0.6 L445.5,1.6 L445.7,3.7 L445.9,5.9 L446.0,8.1 L446.1,10.3 L446.3,12.5 L446.3,14.6 L446.4,16.8 L446.5,19.0 L446.5,21.1 L446.5,23.2 L446.5,25.4 L446.5,27.5 L446.5,29.6 L446.4,31.8 L446.4,33.9 L446.3,36.0 L446.2,38.1 L446.1,40.2 L446.0,42.3 L445.9,44.3 L445.7,46.4 L445.6,48.5 L445.4,50.5 L445.2,52.6 L445.0,54.7 L444.8,56.7 L444.6,58.8 L444.4,60.9 L444.1,63.0 L443.9,65.2 L443.6,67.3 L443.3,69.5 L442.9,71.7 L442.6,73.9 L442.2,76.1 L441.8,78.3 L441.4,80.5 L440.9,82.8 L440.4,85.1 L439.9,87.3 L439.3,89.6 L438.7,91.9 L438.1,94.2 L437.4,96.6 L436.7,98.9 L435.9,101.2 L435.2,103.5 L434.4,105.7 L433.5,108.0 L432.7,110.3 L431.8,112.5 L430.8,114.7 L429.8,116.9 L428.8,119.1 L427.8,121.3 L426.7,123.5 L425.6,125.6 L424.5,127.8 L423.3,129.9 L422.1,132.0 L420.9,134.1 L419.6,136.2 L418.4,138.2 L417.0,140.3 L415.7,142.3 L414.3,144.3 L412.9,146.3 L411.4,148.2 L409.9,150.1 L408.4,152.1 L406.9,154.0 L405.3,155.8 L403.7,157.7 L402.1,159.5 L400.4,161.3 L398.7,163.1 L397.0,164.8 L395.2,166.6 L393.5,168.3 L391.6,170.0 L389.8,171.6 L387.9,173.2 L386.0,174.8 L384.1,176.3 L382.2,177.8 L380.3,179.3 L378.3,180.8 L376.3,182.2 L374.3,183.5 L372.3,184.9 L370.3,186.1 L368.2,187.4 L366.1,188.6 L364.0,189.8 L361.9,190.9 L359.8,192.0 L357.7,193.1 L355.6,194.2 L353.4,195.2 L351.3,196.2 L349.1,197.1 L347.0,198.0 L344.8,198.9 L342.6,199.8 L340.4,200.6 L338.3,201.5 L336.1,202.2 L333.9,203.0 L331.6,203.7 L329.4,204.4 L327.2,205.1 L325.0,205.7 L322.8,206.3 L320.6,206.9 L318.3,207.5 L316.1,208.0 L313.9,208.5 L311.6,209.0 L309.4,209.4 L307.1,209.9 L304.9,210.3 L302.7,210.6 L300.4,211.0 L298.2,211.3 L296.0,211.6 L293.7,211.9 L291.5,212.1 L289.3,212.3 L287.2,212.5 L285.1,212.7 L283.0,212.9 L281.0,213.1 L279.0,213.3 L277.0,213.4 L275.1,213.6 L273.2,213.8 L271.3,213.9 L269.4,214.1 L267.6,214.2 L265.9,214.3 L264.1,214.5 L262.4,214.6 L260.7,214.8 L259.1,214.9 L257.5,215.1 L255.9,215.3 L254.3,215.4 L252.8,215.6 L251.3,215.8 L249.7,216.0 L248.2,216.3 L246.7,216.5 L245.1,216.7 L243.6,217.0 L242.0,217.3 L240.5,217.5 L238.9,217.8 L237.3,218.1 L235.8,218.5 L234.2,218.8 L232.6,219.1 L231.1,219.5 L229.5,219.8 L227.9,220.2 L226.4,220.6 L224.8,221.0 L223.3,221.4 L221.7,221.8 L220.2,222.2 L218.7,222.6 L217.2,223.0 L215.6,223.5 L214.1,223.9 L212.6,224.4 L211.1,224.9 L209.7,225.3 L208.2,225.8 L206.7,226.3 L205.2,226.8 L203.8,227.3 L202.3,227.9 L200.9,228.4 L199.5,228.9 L198.0,229.5 L196.6,230.1 L195.2,230.6 L193.8,231.2 L192.4,231.8 L191.0,232.4 L189.6,233.1 L188.2,233.7 L186.9,234.3 L185.5,235.0 L184.1,235.7 L182.8,236.4 L181.4,237.1 L180.1,237.8 L178.8,238.6 L177.4,239.3 L176.1,240.1 L174.8,240.8 L173.5,241.6 L172.2,242.4 L170.9,243.2 L169.6,244.0 L168.3,244.8 L167.0,245.7 L165.8,246.5 L164.5,247.4 L163.2,248.2 L162.0,249.1 L160.8,250.0 L159.5,250.9 L158.3,251.8 L157.1,252.7 L155.9,253.6 L154.7,254.5 L153.5,255.4 L152.4,256.3 L151.2,257.3 L150.1,258.2 L149.0,259.2 L147.9,260.1 L146.8,261.1 L145.7,262.1 L144.7,263.0 L143.6,264.0 L142.6,265.0 L141.6,266.0 L140.6,267.0 L139.6,268.0 L138.6,269.0 L137.7,270.0 L136.8,271.0 L135.8,272.1 L134.9,273.1 L134.1,274.1 L133.2,275.1 L132.4,276.2 L131.5,277.2 L130.7,278.3 L129.9,279.3 L129.2,280.4 L128.4,281.4 L127.7,282.5 L127.0,283.5 L126.3,284.6 L125.6,285.7 L124.9,286.7 L124.3,287.8 L123.7,288.9 L123.1,290.0 L122.5,291.1 L121.9,292.1 L121.3,293.3 L120.8,294.4 L120.2,295.5 L119.7,296.7 L119.2,297.8 L118.7,299.0 L118.2,300.2 L117.8,301.4 L117.3,302.6 L116.8,303.8 L116.4,305.1 L116.0,306.3 L115.6,307.6 L115.2,308.8 L114.8,310.1 L114.4,311.4 L114.1,312.7 L113.7,314.0 L113.4,315.3 L113.1,316.6 L112.7,317.9 L112.3,319.3 L112.0,320.6 L111.7,321.9 L111.3,323.3 L111.0,324.6 L110.7,326.0 L110.4,327.4 L110.2,328.7 L109.9,330.1 L109.7,331.5 L109.4,332.9 L109.2,334.3 L109.0,335.7 L108.8,337.1 L108.7,338.5 L108.5,339.9 L108.4,341.3 L108.2,342.7 L108.1,344.1 L108.0,345.6 L107.9,347.0 L107.9,348.4 L107.8,349.8 L107.7,351.3 L107.7,352.7 L107.7,354.2 L107.7,355.7 L107.7,357.2 L107.7,358.6 L107.8,360.1 L107.9,361.6 L108.0,363.1 L108.1,364.6 L108.2,366.1 L108.3,367.7 L108.5,369.2 L108.6,370.7 L108.8,372.3 L109.0,373.8 L109.2,375.4 L109.4,377.0 L109.6,378.5 L109.8,380.1 L110.0,381.7 L110.3,383.3 L110.5,384.9 L110.8,386.5 L111.0,388.1 L111.3,389.7 L111.6,391.4 L111.9,393.0 L112.2,394.7 L112.5,396.3 L112.8,398.0 L113.1,399.7 L113.4,401.3 L113.7,403.0 L114.0,404.7 L114.4,406.4 L114.7,408.1 L115.0,409.9 L115.4,411.6 L115.7,413.3 L116.1,415.0 L116.5,416.8 L116.8,418.5 L117.2,420.3 L117.6,422.1 L118.0,423.8 L118.3,425.6 L118.7,427.4 L119.1,429.2 L119.5,431.0 L124.4,430.0 L124.0,428.2 L123.6,426.4 L123.2,424.6 L122.8,422.8 L122.5,421.0 L122.1,419.3 L121.7,417.5 L121.4,415.8 L121.0,414.0 L120.6,412.3 L120.3,410.6 L119.9,408.9 L119.6,407.2 L119.3,405.5 L118.9,403.8 L118.6,402.1 L118.3,400.4 L118.0,398.8 L117.7,397.1 L117.4,395.5 L117.1,393.8 L116.8,392.2 L116.5,390.6 L116.3,389.0 L116.0,387.4 L115.7,385.8 L115.5,384.2 L115.2,382.6 L115.0,381.0 L114.8,379.5 L114.5,377.9 L114.3,376.4 L114.1,374.8 L113.9,373.3 L113.8,371.8 L113.6,370.3 L113.5,368.8 L113.3,367.3 L113.2,365.8 L113.1,364.3 L113.0,362.8 L112.9,361.4 L112.8,359.9 L112.7,358.5 L112.7,357.0 L112.7,355.6 L112.7,354.2 L112.7,352.7 L112.7,351.3 L112.8,349.9 L112.9,348.5 L112.9,347.2 L113.0,345.8 L113.1,344.4 L113.2,343.0 L113.4,341.7 L113.5,340.3 L113.6,339.0 L113.8,337.6 L114.0,336.3 L114.2,334.9 L114.4,333.6 L114.6,332.2 L114.8,330.9 L115.1,329.6 L115.4,328.2 L115.6,326.9 L115.9,325.6 L116.2,324.3 L116.5,323.0 L116.9,321.7 L117.2,320.5 L117.6,319.2 L117.9,317.9 L118.2,316.7 L118.5,315.4 L118.9,314.2 L119.2,312.9 L119.5,311.7 L119.9,310.5 L120.3,309.3 L120.7,308.1 L121.1,306.9 L121.5,305.7 L121.9,304.5 L122.3,303.4 L122.8,302.2 L123.2,301.1 L123.7,300.0 L124.2,298.9 L124.7,297.8 L125.2,296.7 L125.7,295.7 L126.2,294.6 L126.8,293.6 L127.3,292.6 L127.9,291.5 L128.5,290.5 L129.1,289.5 L129.7,288.5 L130.3,287.5 L131.0,286.5 L131.7,285.5 L132.4,284.5 L133.1,283.5 L133.8,282.5 L134.6,281.5 L135.3,280.5 L136.1,279.5 L136.9,278.5 L137.8,277.5 L138.6,276.5 L139.5,275.5 L140.3,274.5 L141.2,273.6 L142.1,272.6 L143.1,271.6 L144.0,270.6 L145.0,269.7 L145.9,268.7 L146.9,267.8 L147.9,266.8 L149.0,265.9 L150.0,264.9 L151.0,264.0 L152.1,263.1 L153.2,262.2 L154.3,261.2 L155.4,260.3 L156.5,259.4 L157.7,258.5 L158.8,257.6 L160.0,256.7 L161.1,255.9 L162.3,255.0 L163.5,254.1 L164.7,253.3 L165.9,252.4 L167.2,251.6 L168.4,250.8 L169.6,249.9 L170.9,249.1 L172.1,248.3 L173.4,247.5 L174.6,246.8 L175.9,246.0 L177.2,245.2 L178.5,244.5 L179.8,243.8 L181.0,243.0 L182.3,242.3 L183.7,241.6 L185.0,240.9 L186.3,240.2 L187.6,239.6 L188.9,238.9 L190.3,238.3 L191.6,237.7 L193.0,237.1 L194.3,236.5 L195.7,235.9 L197.1,235.3 L198.4,234.8 L199.8,234.2 L201.2,233.7 L202.6,233.2 L204.0,232.6 L205.4,232.1 L206.9,231.6 L208.3,231.1 L209.7,230.7 L211.2,230.2 L212.6,229.7 L214.1,229.3 L215.5,228.8 L217.0,228.4 L218.5,228.0 L220.0,227.5 L221.5,227.1 L223.0,226.7 L224.5,226.3 L226.0,226.0 L227.5,225.6 L229.1,225.2 L230.6,224.9 L232.1,224.5 L233.7,224.2 L235.2,223.8 L236.7,223.5 L238.3,223.2 L239.8,222.9 L241.3,222.6 L242.8,222.4 L244.4,222.1 L245.9,221.9 L247.4,221.6 L248.9,221.4 L250.4,221.2 L251.9,221.0 L253.4,220.8 L254.9,220.6 L256.4,220.5 L257.9,220.3 L259.5,220.2 L261.1,220.0 L262.8,219.9 L264.5,219.7 L266.2,219.6 L268.0,219.4 L269.8,219.3 L271.6,219.2 L273.5,219.0 L275.4,218.9 L277.4,218.7 L279.4,218.5 L281.4,218.4 L283.5,218.2 L285.6,218.0 L287.7,217.8 L289.9,217.6 L292.1,217.3 L294.4,217.1 L296.7,216.8 L299.0,216.5 L301.3,216.1 L303.6,215.7 L305.9,215.3 L308.2,214.9 L310.4,214.5 L312.7,214.0 L315.0,213.5 L317.3,213.0 L319.6,212.4 L321.9,211.8 L324.2,211.2 L326.4,210.6 L328.7,209.9 L331.0,209.2 L333.2,208.5 L335.5,207.7 L337.8,206.9 L340.0,206.1 L342.3,205.3 L344.5,204.4 L346.7,203.5 L349.0,202.6 L351.2,201.6 L353.4,200.6 L355.6,199.6 L357.8,198.5 L360.0,197.4 L362.1,196.3 L364.3,195.2 L366.4,194.0 L368.6,192.8 L370.7,191.5 L372.8,190.2 L374.9,188.9 L377.0,187.5 L379.1,186.1 L381.1,184.7 L383.1,183.2 L385.1,181.7 L387.1,180.1 L389.1,178.6 L391.1,176.9 L393.0,175.3 L394.9,173.6 L396.8,171.9 L398.6,170.1 L400.5,168.3 L402.2,166.5 L404.0,164.7 L405.7,162.8 L407.4,161.0 L409.1,159.1 L410.7,157.1 L412.3,155.2 L413.9,153.2 L415.4,151.2 L416.9,149.2 L418.4,147.2 L419.8,145.1 L421.2,143.0 L422.6,140.9 L423.9,138.8 L425.2,136.7 L426.5,134.5 L427.7,132.4 L428.9,130.2 L430.1,128.0 L431.2,125.7 L432.3,123.5 L433.4,121.3 L434.4,119.0 L435.4,116.7 L436.4,114.4 L437.3,112.1 L438.2,109.8 L439.1,107.5 L439.9,105.1 L440.7,102.7 L441.5,100.4 L442.2,98.0 L442.9,95.6 L443.5,93.2 L444.1,90.9 L444.7,88.5 L445.3,86.2 L445.8,83.8 L446.3,81.5 L446.7,79.2 L447.1,77.0 L447.5,74.7 L447.9,72.4 L448.2,70.2 L448.5,68.0 L448.8,65.8 L449.1,63.6 L449.3,61.5 L449.6,59.3 L449.8,57.2 L450.0,55.1 L450.2,53.0 L450.4,51.0 L450.6,48.9 L450.7,46.8 L450.9,44.7 L451.0,42.6 L451.1,40.4 L451.2,38.3 L451.3,36.2 L451.4,34.0 L451.4,31.9 L451.5,29.7 L451.5,27.6 L451.5,25.4 L451.5,23.2 L451.5,21.0 L451.5,18.8 L451.4,16.7 L451.3,14.4 L451.2,12.2 L451.1,10.0 L451.0,7.8 L450.9,5.6 L450.7,3.3 L450.5,1.1 L450.3,-1.1 L450.0,-3.4 L449.8,-5.7 L449.5,-7.9 L449.2,-10.2 L448.8,-12.5 L448.5,-14.7 L448.1,-17.0 L447.7,-19.3 L447.3,-21.6 L446.8,-23.9Z" fill="#037db0"/>
<path d="M447.8,-24.1 L448.2,-21.8 L448.7,-19.5 L449.1,-17.2 L449.5,-14.9 L449.8,-12.6 L450.2,-10.3 L450.5,-8.0 L450.8,-5.8 L451.0,-3.5 L451.3,-1.2 L451.5,1.0 L451.7,3.3 L451.8,5.5 L452.0,7.7 L452.1,10.0 L452.2,12.2 L452.3,14.4 L452.4,16.6 L452.5,18.8 L452.5,21.0 L452.5,23.2 L452.5,25.4 L452.5,27.6 L452.5,29.7 L452.4,31.9 L452.4,34.1 L452.3,36.2 L452.2,38.4 L452.1,40.5 L452.0,42.6 L451.9,44.7 L451.7,46.8 L451.5,48.9 L451.4,51.0 L451.2,53.1 L451.0,55.2 L450.8,57.3 L450.6,59.5 L450.3,61.6 L450.1,63.8 L449.8,65.9 L449.5,68.1 L449.2,70.4 L448.9,72.6 L448.5,74.9 L448.1,77.1 L447.7,79.4 L447.2,81.7 L446.8,84.0 L446.2,86.4 L445.7,88.7 L445.1,91.1 L444.5,93.5 L443.8,95.9 L443.1,98.3 L442.4,100.7 L441.7,103.1 L440.9,105.4 L440.1,107.8 L439.2,110.2 L438.3,112.5 L437.4,114.8 L436.4,117.2 L435.4,119.5 L434.4,121.7 L433.3,124.0 L432.2,126.3 L431.1,128.5 L429.9,130.7 L428.7,133.0 L427.5,135.1 L426.3,137.3 L425.0,139.5 L423.6,141.6 L422.3,143.7 L420.9,145.8 L419.5,147.9 L418.0,150.0 L416.5,152.1 L415.0,154.1 L413.5,156.1 L411.9,158.1 L410.3,160.1 L408.7,162.1 L407.0,164.0 L405.3,165.9 L403.5,167.8 L401.8,169.6 L399.9,171.5 L398.1,173.3 L396.2,175.0 L394.3,176.8 L392.4,178.5 L390.4,180.2 L388.5,181.8 L386.5,183.4 L384.5,185.0 L382.4,186.5 L380.4,188.0 L378.3,189.5 L376.2,190.9 L374.1,192.2 L372.0,193.6 L369.8,194.8 L367.6,196.1 L365.4,197.3 L363.3,198.4 L361.0,199.6 L358.8,200.7 L356.6,201.7 L354.4,202.8 L352.1,203.8 L349.9,204.8 L347.6,205.7 L345.4,206.6 L343.1,207.5 L340.8,208.3 L338.6,209.2 L336.3,209.9 L334.0,210.7 L331.7,211.4 L329.4,212.1 L327.1,212.8 L324.8,213.5 L322.5,214.1 L320.2,214.7 L317.9,215.2 L315.6,215.8 L313.2,216.3 L310.9,216.8 L308.6,217.2 L306.3,217.6 L304.0,218.0 L301.6,218.4 L299.3,218.8 L297.0,219.1 L294.7,219.4 L292.4,219.6 L290.2,219.9 L288.0,220.1 L285.8,220.3 L283.7,220.5 L281.6,220.6 L279.6,220.8 L277.6,221.0 L275.6,221.1 L273.7,221.3 L271.8,221.4 L269.9,221.5 L268.1,221.7 L266.4,221.8 L264.6,221.9 L262.9,222.1 L261.3,222.2 L259.7,222.3 L258.1,222.5 L256.6,222.6 L255.1,222.8 L253.6,223.0 L252.1,223.1 L250.7,223.3 L249.2,223.5 L247.7,223.7 L246.2,224.0 L244.7,224.2 L243.2,224.5 L241.7,224.7 L240.2,225.0 L238.6,225.3 L237.1,225.6 L235.6,225.9 L234.1,226.2 L232.6,226.5 L231.0,226.8 L229.5,227.2 L228.0,227.5 L226.5,227.9 L225.0,228.3 L223.5,228.7 L222.0,229.1 L220.5,229.5 L219.0,229.9 L217.5,230.3 L216.1,230.7 L214.6,231.1 L213.2,231.6 L211.7,232.0 L210.3,232.5 L208.9,233.0 L207.5,233.4 L206.0,233.9 L204.6,234.4 L203.2,234.9 L201.9,235.4 L200.5,236.0 L199.1,236.5 L197.7,237.0 L196.4,237.6 L195.0,238.2 L193.7,238.7 L192.3,239.3 L191.0,239.9 L189.7,240.5 L188.4,241.2 L187.1,241.9 L185.8,242.5 L184.5,243.2 L183.2,243.9 L181.9,244.7 L180.6,245.4 L179.3,246.1 L178.1,246.9 L176.8,247.6 L175.6,248.4 L174.3,249.2 L173.1,249.9 L171.8,250.7 L170.6,251.5 L169.4,252.4 L168.2,253.2 L167.0,254.0 L165.8,254.9 L164.6,255.7 L163.4,256.6 L162.2,257.4 L161.1,258.3 L159.9,259.2 L158.8,260.1 L157.7,261.0 L156.6,261.9 L155.5,262.8 L154.4,263.7 L153.3,264.6 L152.3,265.5 L151.2,266.4 L150.2,267.4 L149.2,268.3 L148.2,269.2 L147.3,270.2 L146.3,271.1 L145.4,272.1 L144.4,273.0 L143.5,274.0 L142.6,275.0 L141.8,275.9 L140.9,276.9 L140.1,277.9 L139.3,278.8 L138.5,279.8 L137.7,280.8 L136.9,281.8 L136.2,282.8 L135.4,283.7 L134.7,284.7 L134.0,285.7 L133.3,286.7 L132.7,287.7 L132.0,288.7 L131.4,289.7 L130.8,290.7 L130.2,291.7 L129.7,292.7 L129.1,293.6 L128.6,294.6 L128.1,295.7 L127.6,296.7 L127.1,297.7 L126.6,298.8 L126.1,299.8 L125.6,300.9 L125.2,302.0 L124.7,303.1 L124.3,304.2 L123.9,305.4 L123.5,306.5 L123.1,307.7 L122.7,308.8 L122.3,310.0 L122.0,311.2 L121.6,312.4 L121.3,313.6 L120.9,314.8 L120.6,316.0 L120.3,317.3 L120.0,318.5 L119.7,319.8 L119.3,321.0 L119.0,322.2 L118.7,323.5 L118.4,324.8 L118.1,326.1 L117.8,327.3 L117.5,328.6 L117.2,329.9 L117.0,331.2 L116.8,332.5 L116.5,333.9 L116.3,335.2 L116.1,336.5 L115.9,337.8 L115.8,339.2 L115.6,340.5 L115.5,341.8 L115.4,343.2 L115.2,344.5 L115.1,345.9 L115.1,347.2 L115.0,348.6 L114.9,350.0 L114.9,351.4 L114.8,352.7 L114.8,354.1 L114.8,355.6 L114.8,357.0 L114.8,358.4 L114.9,359.8 L115.0,361.3 L115.1,362.7 L115.2,364.2 L115.3,365.6 L115.5,367.1 L115.6,368.6 L115.8,370.1 L116.0,371.6 L116.2,373.1 L116.4,374.6 L116.6,376.1 L116.8,377.6 L117.0,379.2 L117.3,380.7 L117.5,382.3 L117.8,383.8 L118.0,385.4 L118.3,387.0 L118.6,388.6 L118.9,390.2 L119.2,391.8 L119.5,393.4 L119.7,395.0 L120.0,396.7 L120.3,398.3 L120.7,400.0 L121.0,401.6 L121.3,403.3 L121.6,405.0 L122.0,406.7 L122.3,408.4 L122.6,410.1 L123.0,411.8 L123.3,413.5 L123.7,415.3 L124.1,417.0 L124.4,418.8 L124.8,420.5 L125.2,422.3 L125.6,424.1 L126.0,425.9 L126.3,427.7 L126.7,429.5 L129.7,428.8 L129.3,427.0 L128.9,425.2 L128.5,423.5 L128.1,421.7 L127.7,419.9 L127.4,418.2 L127.0,416.4 L126.6,414.7 L126.3,412.9 L125.9,411.2 L125.6,409.5 L125.2,407.8 L124.9,406.1 L124.6,404.4 L124.2,402.7 L123.9,401.1 L123.6,399.4 L123.3,397.8 L123.0,396.1 L122.7,394.5 L122.4,392.9 L122.1,391.3 L121.9,389.7 L121.6,388.1 L121.3,386.5 L121.0,385.0 L120.8,383.4 L120.5,381.8 L120.3,380.3 L120.1,378.8 L119.9,377.2 L119.6,375.7 L119.5,374.2 L119.3,372.7 L119.1,371.2 L118.9,369.8 L118.8,368.3 L118.6,366.8 L118.5,365.4 L118.4,364.0 L118.3,362.5 L118.2,361.1 L118.1,359.7 L118.0,358.3 L118.0,356.9 L118.0,355.5 L118.0,354.1 L118.0,352.7 L118.0,351.4 L118.1,350.0 L118.1,348.7 L118.2,347.3 L118.3,346.0 L118.4,344.7 L118.5,343.4 L118.6,342.1 L118.7,340.8 L118.9,339.5 L119.0,338.2 L119.2,336.9 L119.4,335.6 L119.6,334.3 L119.8,333.0 L120.0,331.7 L120.3,330.4 L120.5,329.2 L120.8,327.9 L121.0,326.7 L121.3,325.4 L121.6,324.2 L121.9,322.9 L122.3,321.7 L122.6,320.5 L122.9,319.3 L123.2,318.1 L123.5,316.9 L123.8,315.7 L124.1,314.5 L124.4,313.3 L124.8,312.2 L125.1,311.0 L125.5,309.9 L125.9,308.7 L126.2,307.6 L126.6,306.5 L127.0,305.4 L127.5,304.3 L127.9,303.3 L128.3,302.2 L128.8,301.2 L129.2,300.1 L129.7,299.1 L130.2,298.1 L130.7,297.1 L131.2,296.2 L131.7,295.2 L132.2,294.2 L132.7,293.3 L133.3,292.3 L133.9,291.3 L134.5,290.4 L135.1,289.4 L135.7,288.5 L136.4,287.5 L137.0,286.6 L137.7,285.6 L138.4,284.6 L139.2,283.7 L139.9,282.7 L140.7,281.8 L141.4,280.8 L142.2,279.9 L143.0,278.9 L143.9,278.0 L144.7,277.0 L145.6,276.1 L146.5,275.2 L147.4,274.2 L148.3,273.3 L149.2,272.4 L150.2,271.5 L151.1,270.5 L152.1,269.6 L153.1,268.7 L154.1,267.8 L155.2,266.9 L156.2,266.0 L157.3,265.1 L158.3,264.2 L159.4,263.3 L160.5,262.4 L161.6,261.6 L162.7,260.7 L163.9,259.9 L165.0,259.0 L166.2,258.1 L167.4,257.3 L168.5,256.5 L169.7,255.7 L170.9,254.8 L172.1,254.0 L173.3,253.2 L174.5,252.5 L175.8,251.7 L177.0,250.9 L178.2,250.2 L179.5,249.4 L180.7,248.7 L182.0,248.0 L183.2,247.2 L184.5,246.5 L185.7,245.8 L187.0,245.2 L188.3,244.5 L189.6,243.8 L190.9,243.2 L192.2,242.6 L193.5,242.0 L194.8,241.4 L196.1,240.8 L197.5,240.3 L198.8,239.7 L200.2,239.2 L201.5,238.7 L202.9,238.1 L204.2,237.6 L205.6,237.1 L207.0,236.6 L208.4,236.2 L209.8,235.7 L211.2,235.2 L212.6,234.8 L214.0,234.3 L215.4,233.9 L216.9,233.5 L218.3,233.0 L219.8,232.6 L221.2,232.2 L222.7,231.8 L224.2,231.4 L225.6,231.1 L227.1,230.7 L228.6,230.3 L230.1,230.0 L231.6,229.6 L233.1,229.3 L234.6,229.0 L236.2,228.7 L237.7,228.4 L239.2,228.1 L240.7,227.8 L242.1,227.5 L243.6,227.3 L245.1,227.0 L246.6,226.8 L248.1,226.5 L249.5,226.3 L251.0,226.1 L252.5,225.9 L253.9,225.8 L255.4,225.6 L256.8,225.4 L258.4,225.3 L259.9,225.2 L261.5,225.0 L263.2,224.9 L264.8,224.7 L266.6,224.6 L268.3,224.5 L270.1,224.4 L272.0,224.2 L273.9,224.1 L275.8,223.9 L277.8,223.8 L279.8,223.6 L281.8,223.4 L283.9,223.2 L286.1,223.1 L288.3,222.9 L290.5,222.7 L292.8,222.4 L295.1,222.2 L297.4,221.9 L299.8,221.6 L302.1,221.2 L304.5,220.9 L306.8,220.5 L309.2,220.0 L311.5,219.6 L313.9,219.1 L316.2,218.6 L318.6,218.1 L320.9,217.5 L323.3,216.9 L325.6,216.3 L327.9,215.6 L330.3,215.0 L332.6,214.3 L334.9,213.5 L337.3,212.8 L339.6,212.0 L341.9,211.1 L344.2,210.3 L346.5,209.4 L348.8,208.5 L351.1,207.5 L353.4,206.5 L355.7,205.5 L357.9,204.5 L360.2,203.4 L362.4,202.3 L364.7,201.1 L366.9,199.9 L369.1,198.7 L371.4,197.5 L373.6,196.2 L375.7,194.9 L377.9,193.5 L380.0,192.0 L382.1,190.6 L384.2,189.0 L386.3,187.5 L388.3,185.9 L390.4,184.2 L392.4,182.6 L394.4,180.8 L396.3,179.1 L398.3,177.3 L400.2,175.5 L402.1,173.7 L403.9,171.8 L405.7,169.9 L407.5,168.0 L409.2,166.0 L410.9,164.1 L412.6,162.1 L414.2,160.1 L415.8,158.0 L417.4,156.0 L418.9,153.9 L420.4,151.8 L421.9,149.7 L423.3,147.5 L424.8,145.4 L426.2,143.2 L427.5,141.1 L428.8,138.9 L430.1,136.7 L431.4,134.4 L432.6,132.2 L433.8,129.9 L434.9,127.6 L436.0,125.3 L437.1,123.0 L438.2,120.7 L439.2,118.3 L440.2,116.0 L441.1,113.6 L442.0,111.2 L442.9,108.8 L443.7,106.4 L444.5,104.0 L445.3,101.6 L446.0,99.1 L446.7,96.7 L447.4,94.3 L448.0,91.8 L448.6,89.4 L449.2,87.0 L449.7,84.7 L450.2,82.3 L450.6,80.0 L451.1,77.7 L451.5,75.4 L451.8,73.1 L452.2,70.8 L452.5,68.6 L452.8,66.3 L453.1,64.1 L453.3,61.9 L453.6,59.8 L453.8,57.6 L454.0,55.5 L454.2,53.4 L454.4,51.3 L454.5,49.2 L454.7,47.1 L454.8,44.9 L455.0,42.8 L455.1,40.6 L455.2,38.5 L455.3,36.3 L455.4,34.2 L455.4,32.0 L455.5,29.8 L455.5,27.6 L455.5,25.4 L455.5,23.2 L455.5,21.0 L455.5,18.8 L455.4,16.5 L455.3,14.3 L455.2,12.1 L455.1,9.8 L455.0,7.5 L454.8,5.3 L454.7,3.0 L454.5,0.7 L454.2,-1.6 L454.0,-3.8 L453.7,-6.1 L453.4,-8.4 L453.1,-10.7 L452.8,-13.1 L452.4,-15.4 L452.0,-17.7 L451.6,-20.0 L451.2,-22.3 L450.7,-24.7Z" fill="#037db0"/>
<path d="M451.7,-24.9 L452.2,-22.5 L452.6,-20.2 L453.0,-17.9 L453.4,-15.5 L453.8,-13.2 L454.1,-10.9 L454.4,-8.6 L454.7,-6.3 L455.0,-4.0 L455.2,-1.7 L455.5,0.6 L455.7,2.9 L455.8,5.2 L456.0,7.5 L456.1,9.7 L456.2,12.0 L456.3,14.3 L456.4,16.5 L456.5,18.7 L456.5,21.0 L456.5,23.2 L456.5,25.4 L456.5,27.6 L456.5,29.8 L456.4,32.0 L456.4,34.2 L456.3,36.4 L456.2,38.5 L456.1,40.7 L456.0,42.9 L455.8,45.0 L455.7,47.1 L455.5,49.3 L455.4,51.4 L455.2,53.5 L455.0,55.6 L454.8,57.7 L454.6,59.9 L454.3,62.1 L454.1,64.2 L453.8,66.5 L453.5,68.7 L453.2,70.9 L452.8,73.2 L452.4,75.5 L452.0,77.8 L451.6,80.2 L451.2,82.5 L450.7,84.9 L450.1,87.3 L449.6,89.7 L449.0,92.1 L448.4,94.5 L447.7,97.0 L447.0,99.4 L446.3,101.9 L445.5,104.3 L444.7,106.8 L443.9,109.2 L443.0,111.6 L442.1,114.0 L441.2,116.4 L440.2,118.8 L439.2,121.2 L438.2,123.5 L437.1,125.8 L436.0,128.2 L434.8,130.5 L433.6,132.7 L432.4,135.0 L431.2,137.3 L429.9,139.5 L428.6,141.7 L427.2,143.9 L425.8,146.1 L424.4,148.3 L423.0,150.5 L421.6,152.6 L420.1,154.8 L418.6,156.9 L417.0,159.0 L415.5,161.1 L413.8,163.1 L412.2,165.2 L410.5,167.2 L408.8,169.2 L407.0,171.2 L405.2,173.1 L403.4,175.0 L401.5,176.9 L399.6,178.8 L397.7,180.7 L395.7,182.5 L393.7,184.2 L391.7,186.0 L389.7,187.7 L387.7,189.3 L385.6,190.9 L383.5,192.5 L381.4,194.1 L379.3,195.6 L377.1,197.0 L374.9,198.3 L372.6,199.7 L370.4,200.9 L368.2,202.2 L365.9,203.4 L363.6,204.6 L361.3,205.7 L359.1,206.8 L356.8,207.9 L354.5,208.9 L352.1,209.9 L349.8,210.9 L347.5,211.8 L345.2,212.7 L342.8,213.6 L340.5,214.5 L338.1,215.3 L335.8,216.1 L333.4,216.8 L331.1,217.5 L328.7,218.2 L326.3,218.9 L324.0,219.5 L321.6,220.2 L319.2,220.7 L316.8,221.3 L314.5,221.8 L312.1,222.3 L309.7,222.8 L307.3,223.2 L304.9,223.6 L302.6,224.0 L300.2,224.4 L297.8,224.7 L295.4,225.0 L293.1,225.3 L290.8,225.5 L288.6,225.8 L286.4,226.0 L284.2,226.1 L282.1,226.3 L280.0,226.5 L278.0,226.6 L276.0,226.8 L274.1,226.9 L272.2,227.0 L270.3,227.1 L268.5,227.2 L266.7,227.4 L265.0,227.5 L263.4,227.6 L261.7,227.7 L260.1,227.8 L258.6,228.0 L257.1,228.1 L255.6,228.2 L254.2,228.4 L252.8,228.5 L251.3,228.7 L249.9,228.9 L248.4,229.1 L247.0,229.3 L245.5,229.5 L244.0,229.7 L242.6,230.0 L241.1,230.2 L239.6,230.5 L238.1,230.8 L236.6,231.0 L235.1,231.3 L233.6,231.6 L232.1,232.0 L230.6,232.3 L229.2,232.6 L227.7,233.0 L226.2,233.3 L224.7,233.7 L223.3,234.0 L221.8,234.4 L220.3,234.8 L218.9,235.2 L217.5,235.6 L216.0,236.0 L214.6,236.4 L213.2,236.8 L211.8,237.3 L210.4,237.7 L209.0,238.2 L207.7,238.6 L206.3,239.1 L204.9,239.6 L203.6,240.1 L202.2,240.6 L200.9,241.1 L199.5,241.6 L198.2,242.1 L196.9,242.6 L195.6,243.2 L194.3,243.8 L193.0,244.3 L191.6,244.9 L190.4,245.6 L189.1,246.2 L187.8,246.9 L186.6,247.6 L185.3,248.2 L184.1,248.9 L182.8,249.7 L181.6,250.4 L180.4,251.1 L179.1,251.8 L177.9,252.6 L176.7,253.3 L175.5,254.1 L174.3,254.9 L173.1,255.7 L171.9,256.5 L170.8,257.3 L169.6,258.1 L168.4,258.9 L167.3,259.8 L166.1,260.6 L165.0,261.4 L163.9,262.3 L162.7,263.1 L161.6,264.0 L160.6,264.9 L159.5,265.8 L158.4,266.6 L157.4,267.5 L156.4,268.4 L155.4,269.3 L154.4,270.2 L153.4,271.1 L152.4,272.0 L151.5,272.9 L150.5,273.8 L149.6,274.7 L148.7,275.7 L147.8,276.6 L147.0,277.5 L146.1,278.4 L145.3,279.4 L144.5,280.3 L143.7,281.2 L142.9,282.1 L142.1,283.1 L141.4,284.0 L140.7,285.0 L139.9,285.9 L139.3,286.8 L138.6,287.8 L137.9,288.7 L137.3,289.6 L136.7,290.6 L136.1,291.5 L135.5,292.5 L134.9,293.4 L134.4,294.3 L133.9,295.3 L133.3,296.2 L132.9,297.2 L132.4,298.1 L131.9,299.1 L131.4,300.0 L131.0,301.0 L130.5,302.0 L130.1,303.1 L129.7,304.1 L129.3,305.1 L128.9,306.2 L128.5,307.3 L128.1,308.4 L127.7,309.5 L127.4,310.6 L127.0,311.7 L126.7,312.8 L126.3,314.0 L126.0,315.1 L125.7,316.3 L125.4,317.5 L125.1,318.6 L124.9,319.8 L124.5,321.0 L124.2,322.2 L123.9,323.4 L123.6,324.6 L123.3,325.8 L123.1,327.1 L122.8,328.3 L122.5,329.5 L122.3,330.8 L122.1,332.0 L121.9,333.3 L121.7,334.6 L121.5,335.8 L121.3,337.1 L121.2,338.4 L121.0,339.7 L120.9,341.0 L120.8,342.2 L120.7,343.5 L120.6,344.8 L120.5,346.1 L120.4,347.4 L120.4,348.7 L120.3,350.1 L120.3,351.4 L120.3,352.7 L120.2,354.1 L120.3,355.5 L120.3,356.8 L120.3,358.2 L120.4,359.6 L120.5,361.0 L120.6,362.4 L120.7,363.8 L120.8,365.2 L121.0,366.7 L121.1,368.1 L121.3,369.6 L121.5,371.0 L121.6,372.5 L121.8,374.0 L122.0,375.5 L122.3,376.9 L122.5,378.5 L122.7,380.0 L123.0,381.5 L123.2,383.0 L123.5,384.6 L123.7,386.1 L124.0,387.7 L124.3,389.3 L124.6,390.9 L124.9,392.5 L125.2,394.1 L125.5,395.7 L125.8,397.3 L126.1,399.0 L126.4,400.6 L126.7,402.3 L127.0,403.9 L127.3,405.6 L127.7,407.3 L128.0,409.0 L128.4,410.7 L128.7,412.4 L129.1,414.2 L129.5,415.9 L129.8,417.6 L130.2,419.4 L130.6,421.2 L130.9,422.9 L131.3,424.7 L131.7,426.5 L132.1,428.3 L134.6,427.8 L134.3,426.0 L133.9,424.2 L133.5,422.4 L133.1,420.6 L132.7,418.8 L132.4,417.1 L132.0,415.4 L131.6,413.6 L131.3,411.9 L130.9,410.2 L130.6,408.5 L130.2,406.8 L129.9,405.1 L129.6,403.4 L129.2,401.8 L128.9,400.1 L128.6,398.5 L128.3,396.9 L128.0,395.2 L127.7,393.6 L127.4,392.0 L127.2,390.4 L126.9,388.9 L126.6,387.3 L126.3,385.7 L126.1,384.2 L125.8,382.7 L125.6,381.1 L125.3,379.6 L125.1,378.1 L124.9,376.6 L124.7,375.1 L124.5,373.7 L124.3,372.2 L124.1,370.7 L123.9,369.3 L123.8,367.9 L123.6,366.4 L123.5,365.0 L123.4,363.6 L123.3,362.2 L123.2,360.9 L123.1,359.5 L123.0,358.1 L123.0,356.8 L122.9,355.4 L122.9,354.1 L122.9,352.7 L123.0,351.4 L123.0,350.1 L123.0,348.8 L123.1,347.5 L123.2,346.2 L123.2,345.0 L123.3,343.7 L123.4,342.4 L123.5,341.2 L123.7,339.9 L123.8,338.7 L124.0,337.4 L124.1,336.2 L124.3,334.9 L124.5,333.7 L124.7,332.5 L124.9,331.2 L125.1,330.0 L125.4,328.8 L125.6,327.6 L125.9,326.4 L126.2,325.2 L126.4,324.0 L126.7,322.8 L127.1,321.7 L127.4,320.5 L127.6,319.4 L127.9,318.2 L128.2,317.1 L128.5,315.9 L128.8,314.8 L129.1,313.7 L129.4,312.6 L129.8,311.5 L130.1,310.4 L130.5,309.3 L130.9,308.3 L131.2,307.2 L131.6,306.2 L132.0,305.2 L132.4,304.2 L132.9,303.2 L133.3,302.2 L133.7,301.3 L134.2,300.3 L134.6,299.4 L135.1,298.5 L135.6,297.6 L136.1,296.7 L136.6,295.7 L137.1,294.8 L137.6,293.9 L138.2,293.0 L138.8,292.1 L139.4,291.2 L140.0,290.3 L140.6,289.4 L141.3,288.5 L141.9,287.5 L142.6,286.6 L143.3,285.7 L144.1,284.8 L144.8,283.9 L145.6,283.0 L146.3,282.1 L147.1,281.2 L148.0,280.3 L148.8,279.4 L149.6,278.4 L150.5,277.5 L151.4,276.6 L152.3,275.8 L153.2,274.9 L154.1,274.0 L155.1,273.1 L156.0,272.2 L157.0,271.3 L158.0,270.4 L159.0,269.6 L160.0,268.7 L161.1,267.8 L162.1,267.0 L163.2,266.1 L164.3,265.3 L165.3,264.4 L166.5,263.6 L167.6,262.7 L168.7,261.9 L169.8,261.1 L171.0,260.3 L172.1,259.5 L173.3,258.7 L174.5,257.9 L175.6,257.1 L176.8,256.4 L178.0,255.6 L179.2,254.8 L180.4,254.1 L181.6,253.4 L182.8,252.7 L184.0,252.0 L185.3,251.3 L186.5,250.6 L187.7,249.9 L189.0,249.2 L190.2,248.6 L191.5,247.9 L192.7,247.3 L194.0,246.7 L195.3,246.1 L196.6,245.6 L197.9,245.0 L199.2,244.5 L200.5,244.0 L201.8,243.5 L203.1,243.0 L204.5,242.5 L205.8,242.0 L207.1,241.5 L208.5,241.1 L209.9,240.6 L211.2,240.2 L212.6,239.7 L214.0,239.3 L215.4,238.9 L216.8,238.5 L218.2,238.1 L219.6,237.7 L221.0,237.3 L222.5,236.9 L223.9,236.5 L225.3,236.1 L226.8,235.8 L228.3,235.4 L229.7,235.1 L231.2,234.8 L232.7,234.4 L234.2,234.1 L235.6,233.8 L237.1,233.5 L238.6,233.3 L240.1,233.0 L241.5,232.7 L243.0,232.5 L244.4,232.2 L245.9,232.0 L247.3,231.8 L248.8,231.6 L250.2,231.4 L251.6,231.2 L253.1,231.0 L254.5,230.9 L255.9,230.7 L257.3,230.6 L258.8,230.5 L260.3,230.3 L261.9,230.2 L263.5,230.1 L265.2,230.0 L266.9,229.9 L268.7,229.8 L270.5,229.6 L272.3,229.5 L274.2,229.4 L276.2,229.3 L278.2,229.1 L280.2,229.0 L282.3,228.8 L284.4,228.6 L286.6,228.4 L288.8,228.3 L291.1,228.0 L293.4,227.8 L295.8,227.5 L298.2,227.2 L300.6,226.9 L303.0,226.5 L305.4,226.1 L307.8,225.7 L310.2,225.3 L312.6,224.8 L315.0,224.3 L317.4,223.8 L319.8,223.2 L322.2,222.6 L324.6,222.0 L327.0,221.4 L329.4,220.7 L331.8,220.0 L334.2,219.3 L336.6,218.5 L339.0,217.7 L341.4,216.9 L343.8,216.1 L346.1,215.2 L348.5,214.3 L350.8,213.3 L353.2,212.3 L355.5,211.3 L357.9,210.3 L360.2,209.2 L362.5,208.1 L364.9,206.9 L367.2,205.7 L369.4,204.5 L371.7,203.3 L374.0,202.0 L376.3,200.6 L378.5,199.3 L380.8,197.9 L382.9,196.3 L385.0,194.7 L387.2,193.1 L389.3,191.5 L391.3,189.8 L393.4,188.1 L395.4,186.3 L397.4,184.5 L399.4,182.7 L401.4,180.8 L403.3,178.9 L405.2,177.0 L407.1,175.0 L408.9,173.0 L410.7,171.0 L412.4,169.0 L414.2,166.9 L415.8,164.8 L417.5,162.8 L419.1,160.6 L420.6,158.5 L422.2,156.3 L423.7,154.2 L425.1,152.0 L426.6,149.7 L428.0,147.5 L429.4,145.3 L430.8,143.1 L432.1,140.8 L433.4,138.6 L434.7,136.3 L435.9,134.0 L437.1,131.7 L438.3,129.3 L439.4,127.0 L440.5,124.6 L441.6,122.2 L442.6,119.8 L443.6,117.4 L444.5,115.0 L445.4,112.5 L446.3,110.1 L447.2,107.6 L448.0,105.2 L448.7,102.7 L449.5,100.2 L450.2,97.7 L450.9,95.2 L451.5,92.7 L452.1,90.3 L452.7,87.8 L453.2,85.4 L453.7,83.0 L454.2,80.6 L454.6,78.3 L455.0,75.9 L455.4,73.6 L455.7,71.3 L456.1,69.0 L456.4,66.8 L456.6,64.6 L456.9,62.3 L457.1,60.2 L457.4,58.0 L457.6,55.8 L457.8,53.7 L458.0,51.6 L458.1,49.5 L458.3,47.3 L458.4,45.2 L458.6,43.0 L458.7,40.8 L458.8,38.7 L458.9,36.5 L459.0,34.3 L459.0,32.1 L459.1,29.9 L459.1,27.6 L459.1,25.4 L459.1,23.2 L459.1,20.9 L459.1,18.7 L459.0,16.4 L458.9,14.2 L458.8,11.9 L458.7,9.6 L458.6,7.3 L458.4,5.0 L458.3,2.7 L458.0,0.4 L457.8,-1.9 L457.6,-4.2 L457.3,-6.6 L457.0,-8.9 L456.7,-11.2 L456.3,-13.6 L456.0,-15.9 L455.6,-18.3 L455.2,-20.7 L454.7,-23.0 L454.2,-25.4Z" fill="#037db0"/>
<path d="M185.0,253.7 L183.8,254.4 L182.6,255.1 L181.4,255.9 L180.2,256.6 L179.0,257.3 L177.8,258.1 L176.7,258.8 L175.5,259.6 L174.4,260.4 L173.2,261.2 L172.1,262.0 L170.9,262.8 L169.8,263.6 L168.7,264.4 L167.6,265.2 L166.5,266.1 L165.4,266.9 L164.4,267.7 L163.3,268.6 L162.3,269.4 L161.2,270.3 L160.2,271.1 L159.2,272.0 L158.3,272.9 L157.3,273.7 L156.4,274.6 L155.4,275.5 L154.5,276.4 L153.6,277.2 L152.7,278.1 L151.9,279.0 L151.0,279.9 L150.2,280.8 L149.4,281.7 L148.6,282.6 L147.8,283.5 L147.0,284.3 L146.3,285.2 L145.6,286.1 L144.9,287.0 L144.2,287.9 L143.5,288.8 L142.8,289.7 L142.2,290.6 L141.6,291.5 L141.0,292.4 L140.4,293.3 L139.8,294.2 L139.3,295.1 L138.8,295.9 L138.3,296.8 L137.8,297.7 L137.3,298.6 L136.8,299.5 L136.4,300.4 L135.9,301.3 L135.5,302.2 L135.1,303.1 L134.7,304.1 L134.3,305.1 L133.9,306.0 L133.5,307.0 L133.1,308.0 L132.7,309.1 L132.4,310.1 L132.0,311.1 L131.7,312.2 L131.3,313.3 L131.0,314.3 L130.7,315.4 L130.4,316.5 L130.1,317.6 L129.8,318.8 L129.6,319.9 L129.3,321.0 L129.0,322.2 L128.7,323.3 L128.4,324.5 L128.1,325.6 L127.8,326.8 L127.6,328.0 L127.3,329.2 L127.1,330.4 L126.9,331.6 L126.7,332.8 L126.5,334.0 L126.3,335.2 L126.1,336.4 L125.9,337.7 L125.8,338.9 L125.7,340.1 L125.5,341.4 L125.4,342.6 L125.3,343.8 L125.2,345.1 L125.2,346.3 L125.1,347.6 L125.0,348.9 L125.0,350.1 L125.0,351.4 L124.9,352.7 L124.9,354.1 L124.9,355.4 L125.0,356.7 L125.0,358.0 L125.1,359.4 L125.2,360.7 L125.3,362.1 L125.4,363.5 L125.5,364.9 L125.7,366.3 L125.8,367.7 L126.0,369.1 L126.2,370.5 L126.4,372.0 L126.6,373.4 L126.8,374.9 L127.0,376.4 L127.2,377.8 L127.4,379.3 L127.7,380.8 L127.9,382.3 L128.2,383.9 L128.5,385.4 L128.8,386.9 L129.0,388.5 L129.3,390.1 L129.6,391.6 L129.9,393.2 L130.2,394.8 L130.5,396.5 L130.8,398.1 L131.1,399.7 L131.4,401.4 L131.7,403.0 L132.1,404.7 L132.4,406.4 L132.7,408.0 L133.1,409.7 L133.4,411.5 L133.8,413.2 L134.1,414.9 L134.5,416.6 L134.9,418.4 L135.3,420.2 L135.6,421.9 L136.0,423.7 L136.4,425.5 L136.8,427.3 L146.1,425.3 L145.7,423.5 L145.3,421.7 L144.9,419.9 L144.6,418.2 L144.2,416.4 L143.8,414.7 L143.4,412.9 L143.1,411.2 L142.7,409.5 L142.4,407.8 L142.0,406.2 L141.7,404.5 L141.4,402.8 L141.0,401.2 L140.7,399.6 L140.4,397.9 L140.1,396.3 L139.8,394.7 L139.5,393.2 L139.2,391.6 L139.0,390.0 L138.7,388.5 L138.4,387.0 L138.1,385.4 L137.9,383.9 L137.6,382.4 L137.3,381.0 L137.1,379.5 L136.9,378.1 L136.6,376.6 L136.4,375.2 L136.2,373.8 L136.0,372.4 L135.8,371.0 L135.6,369.6 L135.5,368.2 L135.3,366.9 L135.2,365.5 L135.0,364.2 L134.9,362.9 L134.8,361.6 L134.7,360.3 L134.6,359.0 L134.5,357.7 L134.5,356.5 L134.4,355.2 L134.4,354.0 L134.4,352.7 L134.5,351.5 L134.5,350.3 L134.5,349.1 L134.6,347.9 L134.6,346.8 L134.7,345.6 L134.8,344.5 L134.9,343.3 L135.0,342.2 L135.1,341.0 L135.2,339.9 L135.4,338.7 L135.5,337.6 L135.7,336.5 L135.9,335.4 L136.1,334.3 L136.2,333.1 L136.5,332.0 L136.7,330.9 L136.9,329.9 L137.1,328.8 L137.4,327.7 L137.6,326.7 L137.9,325.6 L138.2,324.6 L138.5,323.5 L138.7,322.5 L138.9,321.5 L139.2,320.4 L139.4,319.4 L139.7,318.4 L140.0,317.5 L140.3,316.5 L140.5,315.5 L140.8,314.6 L141.2,313.6 L141.5,312.7 L141.8,311.8 L142.1,310.9 L142.5,310.0 L142.8,309.2 L143.2,308.3 L143.5,307.5 L143.9,306.7 L144.3,305.9 L144.6,305.1 L145.0,304.3 L145.4,303.5 L145.8,302.8 L146.2,302.0 L146.7,301.2 L147.1,300.4 L147.6,299.6 L148.1,298.9 L148.6,298.1 L149.1,297.3 L149.7,296.5 L150.2,295.7 L150.8,294.9 L151.4,294.1 L152.0,293.3 L152.7,292.4 L153.3,291.6 L154.0,290.8 L154.7,290.0 L155.4,289.2 L156.1,288.4 L156.8,287.6 L157.6,286.7 L158.4,285.9 L159.2,285.1 L160.0,284.3 L160.8,283.5 L161.6,282.7 L162.5,281.8 L163.4,281.0 L164.3,280.2 L165.2,279.4 L166.1,278.6 L167.0,277.8 L168.0,277.0 L169.0,276.2 L169.9,275.4 L170.9,274.6 L172.0,273.8 L173.0,273.0 L174.0,272.3 L175.1,271.5 L176.1,270.7 L177.2,270.0 L178.3,269.2 L179.4,268.5 L180.4,267.7 L181.5,267.0 L182.6,266.3 L183.7,265.6 L184.9,264.9 L186.0,264.2 L187.1,263.5 L188.2,262.8 L189.4,262.1Z" fill="#6c389a"/>
<path d="M190.5,264.3 L189.4,264.9 L188.2,265.6 L187.1,266.3 L186.0,267.0 L184.9,267.6 L183.9,268.3 L182.8,269.1 L181.7,269.8 L180.6,270.5 L179.6,271.2 L178.5,272.0 L177.4,272.7 L176.4,273.5 L175.4,274.3 L174.3,275.0 L173.3,275.8 L172.3,276.6 L171.4,277.4 L170.4,278.1 L169.4,278.9 L168.5,279.7 L167.6,280.5 L166.7,281.3 L165.8,282.1 L164.9,282.9 L164.1,283.7 L163.2,284.5 L162.4,285.3 L161.6,286.1 L160.8,286.9 L160.0,287.7 L159.3,288.5 L158.5,289.3 L157.8,290.1 L157.1,290.9 L156.4,291.7 L155.7,292.5 L155.1,293.3 L154.5,294.0 L153.8,294.8 L153.2,295.6 L152.7,296.4 L152.1,297.2 L151.6,298.0 L151.0,298.7 L150.5,299.5 L150.0,300.3 L149.6,301.0 L149.1,301.8 L148.7,302.5 L148.3,303.3 L147.8,304.0 L147.5,304.8 L147.1,305.5 L146.7,306.3 L146.4,307.0 L146.0,307.8 L145.7,308.6 L145.3,309.4 L145.0,310.2 L144.6,311.1 L144.3,311.9 L144.0,312.8 L143.7,313.7 L143.4,314.5 L143.1,315.5 L142.8,316.4 L142.5,317.3 L142.2,318.3 L142.0,319.2 L141.7,320.2 L141.5,321.2 L141.2,322.1 L141.0,323.1 L140.8,324.2 L140.5,325.2 L140.2,326.2 L140.0,327.2 L139.7,328.2 L139.5,329.3 L139.2,330.3 L139.0,331.4 L138.8,332.5 L138.6,333.5 L138.4,334.6 L138.2,335.7 L138.1,336.8 L137.9,337.9 L137.8,339.0 L137.6,340.1 L137.5,341.2 L137.4,342.4 L137.3,343.5 L137.2,344.6 L137.1,345.7 L137.0,346.9 L137.0,348.0 L136.9,349.2 L136.9,350.4 L136.9,351.5 L136.8,352.7 L136.8,353.9 L136.8,355.2 L136.9,356.4 L136.9,357.6 L137.0,358.9 L137.1,360.2 L137.2,361.4 L137.3,362.7 L137.4,364.0 L137.5,365.3 L137.7,366.7 L137.8,368.0 L138.0,369.4 L138.2,370.7 L138.4,372.1 L138.6,373.5 L138.8,374.9 L139.0,376.3 L139.2,377.7 L139.5,379.2 L139.7,380.6 L140.0,382.1 L140.2,383.6 L140.5,385.1 L140.8,386.6 L141.1,388.1 L141.3,389.6 L141.6,391.2 L141.9,392.7 L142.2,394.3 L142.5,395.9 L142.8,397.5 L143.1,399.1 L143.4,400.7 L143.7,402.4 L144.1,404.0 L144.4,405.7 L144.7,407.4 L145.1,409.0 L145.4,410.7 L145.8,412.5 L146.2,414.2 L146.5,415.9 L146.9,417.7 L147.3,419.4 L147.7,421.2 L148.0,423.0 L148.4,424.8 L158.2,422.7 L157.8,420.9 L157.4,419.1 L157.1,417.3 L156.7,415.6 L156.3,413.8 L155.9,412.1 L155.6,410.4 L155.2,408.7 L154.9,407.0 L154.5,405.3 L154.2,403.7 L153.9,402.0 L153.5,400.4 L153.2,398.8 L152.9,397.2 L152.6,395.6 L152.3,394.0 L152.0,392.5 L151.7,390.9 L151.5,389.4 L151.2,387.9 L150.9,386.4 L150.7,384.9 L150.4,383.5 L150.1,382.0 L149.9,380.6 L149.6,379.2 L149.4,377.8 L149.1,376.4 L148.9,375.0 L148.7,373.7 L148.5,372.3 L148.3,371.0 L148.1,369.7 L148.0,368.4 L147.8,367.1 L147.7,365.8 L147.5,364.5 L147.4,363.3 L147.3,362.1 L147.1,360.9 L147.0,359.6 L147.0,358.5 L146.9,357.3 L146.9,356.1 L146.8,355.0 L146.8,353.8 L146.8,352.7 L146.9,351.6 L146.9,350.5 L146.9,349.5 L147.0,348.4 L147.0,347.3 L147.1,346.3 L147.2,345.3 L147.3,344.2 L147.4,343.2 L147.5,342.2 L147.6,341.2 L147.7,340.2 L147.8,339.2 L148.0,338.2 L148.1,337.2 L148.3,336.2 L148.5,335.2 L148.7,334.2 L148.8,333.3 L149.0,332.3 L149.3,331.4 L149.5,330.4 L149.7,329.5 L149.9,328.6 L150.2,327.7 L150.4,326.8 L150.6,325.9 L150.8,325.0 L151.0,324.1 L151.2,323.2 L151.5,322.4 L151.7,321.5 L151.9,320.7 L152.2,319.9 L152.4,319.1 L152.7,318.3 L152.9,317.5 L153.2,316.8 L153.4,316.0 L153.7,315.3 L154.0,314.6 L154.3,313.9 L154.5,313.2 L154.8,312.5 L155.1,311.8 L155.4,311.2 L155.7,310.6 L156.0,310.0 L156.3,309.3 L156.7,308.7 L157.0,308.1 L157.4,307.4 L157.7,306.8 L158.1,306.1 L158.5,305.5 L159.0,304.8 L159.4,304.1 L159.9,303.5 L160.4,302.8 L160.9,302.1 L161.4,301.4 L161.9,300.7 L162.5,300.0 L163.1,299.3 L163.6,298.6 L164.3,297.9 L164.9,297.1 L165.5,296.4 L166.2,295.7 L166.9,295.0 L167.6,294.2 L168.3,293.5 L169.0,292.8 L169.8,292.0 L170.5,291.3 L171.3,290.6 L172.1,289.8 L172.9,289.1 L173.8,288.4 L174.6,287.6 L175.5,286.9 L176.3,286.2 L177.2,285.4 L178.1,284.7 L179.1,284.0 L180.0,283.3 L181.0,282.5 L181.9,281.8 L182.9,281.1 L183.9,280.4 L184.9,279.7 L185.9,279.0 L186.9,278.3 L187.9,277.6 L188.9,277.0 L189.9,276.3 L191.0,275.7 L192.0,275.0 L193.0,274.4 L194.1,273.8 L195.1,273.1Z" fill="#6c389a"/>
<path d="M195.1,273.1 L194.1,273.8 L193.0,274.4 L192.0,275.0 L191.0,275.7 L189.9,276.3 L188.9,277.0 L187.9,277.6 L186.9,278.3 L185.9,279.0 L184.9,279.7 L183.9,280.4 L182.9,281.1 L181.9,281.8 L181.0,282.5 L180.0,283.3 L179.1,284.0 L178.1,284.7 L177.2,285.4 L176.3,286.2 L175.5,286.9 L174.6,287.6 L173.8,288.4 L172.9,289.1 L172.1,289.8 L171.3,290.6 L170.5,291.3 L169.8,292.0 L169.0,292.8 L168.3,293.5 L167.6,294.2 L166.9,295.0 L166.2,295.7 L165.5,296.4 L164.9,297.1 L164.3,297.9 L163.6,298.6 L163.1,299.3 L162.5,300.0 L161.9,300.7 L161.4,301.4 L160.9,302.1 L160.4,302.8 L159.9,303.5 L159.4,304.1 L159.0,304.8 L158.5,305.5 L158.1,306.1 L157.7,306.8 L157.4,307.4 L157.0,308.1 L156.7,308.7 L156.3,309.3 L156.0,310.0 L155.7,310.6 L155.4,311.2 L155.1,311.8 L154.8,312.5 L154.5,313.2 L154.3,313.9 L154.0,314.6 L153.7,315.3 L153.4,316.0 L153.2,316.8 L152.9,317.5 L152.7,318.3 L152.4,319.1 L152.2,319.9 L151.9,320.7 L151.7,321.5 L151.5,322.4 L151.2,323.2 L151.0,324.1 L150.8,325.0 L150.6,325.9 L150.4,326.8 L150.2,327.7 L149.9,328.6 L149.7,329.5 L149.5,330.4 L149.3,331.4 L149.0,332.3 L148.8,333.3 L148.7,334.2 L148.5,335.2 L148.3,336.2 L148.1,337.2 L148.0,338.2 L147.8,339.2 L147.7,340.2 L147.6,341.2 L147.5,342.2 L147.4,343.2 L147.3,344.2 L147.2,345.3 L147.1,346.3 L147.0,347.3 L147.0,348.4 L146.9,349.5 L146.9,350.5 L146.9,351.6 L146.8,352.7 L146.8,353.8 L146.8,355.0 L146.9,356.1 L146.9,357.3 L147.0,358.5 L147.0,359.6 L147.1,360.9 L147.3,362.1 L147.4,363.3 L147.5,364.5 L147.7,365.8 L147.8,367.1 L148.0,368.4 L148.1,369.7 L148.3,371.0 L148.5,372.3 L148.7,373.7 L148.9,375.0 L149.1,376.4 L149.4,377.8 L149.6,379.2 L149.9,380.6 L150.1,382.0 L150.4,383.5 L150.7,384.9 L150.9,386.4 L151.2,387.9 L151.5,389.4 L151.7,390.9 L152.0,392.5 L152.3,394.0 L152.6,395.6 L152.9,397.2 L153.2,398.8 L153.5,400.4 L153.9,402.0 L154.2,403.7 L154.5,405.3 L154.9,407.0 L155.2,408.7 L155.6,410.4 L155.9,412.1 L156.3,413.8 L156.7,415.6 L157.1,417.3 L157.4,419.1 L157.8,420.9 L158.2,422.7 L168.0,420.6 L167.6,418.8 L167.2,417.0 L166.8,415.2 L166.5,413.5 L166.1,411.8 L165.7,410.0 L165.4,408.3 L165.0,406.7 L164.7,405.0 L164.3,403.3 L164.0,401.7 L163.7,400.1 L163.3,398.5 L163.0,396.9 L162.7,395.3 L162.4,393.7 L162.1,392.2 L161.8,390.7 L161.6,389.2 L161.3,387.7 L161.0,386.2 L160.8,384.7 L160.5,383.3 L160.3,381.9 L160.0,380.5 L159.7,379.1 L159.5,377.7 L159.3,376.4 L159.0,375.0 L158.8,373.7 L158.6,372.4 L158.4,371.1 L158.3,369.9 L158.1,368.6 L157.9,367.4 L157.8,366.1 L157.6,364.9 L157.5,363.7 L157.4,362.6 L157.2,361.4 L157.1,360.3 L157.0,359.1 L156.9,358.0 L156.9,356.9 L156.8,355.9 L156.8,354.8 L156.8,353.8 L156.8,352.7 L156.9,351.7 L156.9,350.7 L156.9,349.7 L157.0,348.7 L157.0,347.8 L157.1,346.8 L157.1,345.9 L157.2,345.0 L157.3,344.1 L157.4,343.2 L157.5,342.2 L157.6,341.3 L157.8,340.4 L157.9,339.5 L158.0,338.6 L158.2,337.8 L158.3,336.9 L158.5,336.0 L158.7,335.1 L158.9,334.3 L159.0,333.5 L159.2,332.6 L159.4,331.8 L159.6,331.0 L159.9,330.2 L160.1,329.4 L160.2,328.6 L160.4,327.8 L160.6,327.1 L160.8,326.3 L160.9,325.6 L161.1,324.8 L161.3,324.1 L161.5,323.4 L161.7,322.7 L161.9,322.0 L162.1,321.4 L162.3,320.7 L162.6,320.1 L162.8,319.5 L163.0,318.9 L163.2,318.3 L163.4,317.7 L163.7,317.2 L163.9,316.7 L164.1,316.1 L164.3,315.6 L164.6,315.1 L164.8,314.6 L165.1,314.1 L165.3,313.6 L165.6,313.1 L165.9,312.5 L166.2,312.0 L166.6,311.4 L166.9,310.9 L167.3,310.3 L167.7,309.7 L168.1,309.1 L168.5,308.5 L168.9,307.9 L169.4,307.3 L169.9,306.7 L170.4,306.1 L170.9,305.5 L171.4,304.8 L172.0,304.2 L172.5,303.5 L173.1,302.9 L173.7,302.2 L174.3,301.6 L175.0,300.9 L175.6,300.3 L176.3,299.6 L177.0,298.9 L177.7,298.3 L178.4,297.6 L179.2,296.9 L179.9,296.2 L180.7,295.6 L181.5,294.9 L182.3,294.2 L183.1,293.5 L184.0,292.8 L184.8,292.2 L185.7,291.5 L186.6,290.8 L187.5,290.1 L188.4,289.5 L189.3,288.8 L190.2,288.2 L191.1,287.5 L192.1,286.9 L193.0,286.2 L194.0,285.6 L194.9,285.0 L195.9,284.4 L196.8,283.8 L197.8,283.2 L198.8,282.6 L199.7,282.0Z" fill="#6c389a"/>
<circle cx="424.3" cy="-5.5" r="44.70" fill="#037db0" stroke="#fff" stroke-width="3"/>
<circle cx="438.2" cy="47.1" r="27.80" fill="#037db0" stroke="#fff" stroke-width="2.6"/>
<circle cx="441.25" cy="84.5" r="22.00" fill="#037db0" stroke="#fff" stroke-width="2.5"/>
<circle cx="438.4" cy="116.1" r="16.35" fill="#037db0" stroke="#fff" stroke-width="2.5"/>
<circle cx="434.5" cy="143" r="15.35" fill="#037db0" stroke="#fff" stroke-width="2.5"/>
<circle cx="217.6" cy="235.2" r="35.50" fill="#6c389a" stroke="#fff" stroke-width="3"/>
<circle cx="172" cy="278.6" r="30.60" fill="#6c389a" stroke="#fff" stroke-width="3"/>
<circle cx="151.25" cy="332" r="31.00" fill="#6c389a" stroke="#fff" stroke-width="3"/>
<circle cx="161.6" cy="382.9" r="21.20" fill="#6c389a" stroke="#fff" stroke-width="2.8"/>
<circle cx="193.4" cy="411.7" r="21.20" fill="#6c389a" stroke="#fff" stroke-width="2.8"/>
<g font-family="Liberation Sans, sans-serif" opacity="0.999">
<text transform="translate(429.75,52.94) scale(0.82,1)" fill="#fff" stroke="#fff" stroke-width="0.5" font-size="13.8">3</text><text transform="translate(436.75,52.04) scale(0.97,1)" fill="#fff" stroke="#fff" stroke-width="0.35" font-size="11.2">%</text>
<text transform="translate(433.42,89.39) scale(0.82,1)" fill="#fff" stroke="#fff" stroke-width="0.5" font-size="13.1">2</text><text transform="translate(439.93,88.49) scale(0.97,1)" fill="#fff" stroke="#fff" stroke-width="0.35" font-size="10.6">%</text>
<text transform="translate(430.91,119.98) scale(1.0,1)" fill="#fff" stroke="#fff" stroke-width="0.5" font-size="11.4">1</text><text transform="translate(437.08,119.68) scale(0.97,1)" fill="#fff" stroke="#fff" stroke-width="0.35" font-size="9.8">%</text>
<text transform="translate(426.91,146.98) scale(1.0,1)" fill="#fff" stroke="#fff" stroke-width="0.5" font-size="11.4">1</text><text transform="translate(433.08,146.68) scale(0.97,1)" fill="#fff" stroke="#fff" stroke-width="0.35" font-size="9.8">%</text>
<text transform="translate(209.90,239.94) scale(0.82,1)" fill="#fff" stroke="#fff" stroke-width="0.5" font-size="13.8">5</text><text transform="translate(217.20,239.04) scale(0.97,1)" fill="#fff" stroke="#fff" stroke-width="0.35" font-size="11.2">%</text>
<text transform="translate(162.95,282.54) scale(0.9,1)" fill="#fff" stroke="#fff" stroke-width="0.5" font-size="13.8">4</text><text transform="translate(170.95,281.64) scale(0.97,1)" fill="#fff" stroke="#fff" stroke-width="0.35" font-size="11.2">%</text>
<text transform="translate(142.35,336.94) scale(0.9,1)" fill="#fff" stroke="#fff" stroke-width="0.5" font-size="13.8">4</text><text transform="translate(150.35,336.04) scale(0.97,1)" fill="#fff" stroke="#fff" stroke-width="0.35" font-size="11.2">%</text>
<text transform="translate(154.52,386.89) scale(0.82,1)" fill="#fff" stroke="#fff" stroke-width="0.5" font-size="13.1">2</text><text transform="translate(161.03,385.99) scale(0.97,1)" fill="#fff" stroke="#fff" stroke-width="0.35" font-size="10.6">%</text>
<text x="475.4" y="51.7" font-size="12.5" fill="#12141c" stroke="#12141c" stroke-width="0.3" textLength="109.4" lengthAdjust="spacingAndGlyphs">Traumatic brain injury</text>
<text x="470.2" y="87.8" font-size="12.5" fill="#12141c" stroke="#12141c" stroke-width="0.3" textLength="67" lengthAdjust="spacingAndGlyphs">Hypertension</text>
<text x="464.1" y="112.8" font-size="12.5" fill="#12141c" stroke="#12141c" stroke-width="0.3" textLength="37.5" lengthAdjust="spacingAndGlyphs">Alcohol</text>
<text x="464.1" y="129" font-size="12.5" fill="#12141c" stroke="#12141c" stroke-width="0.3" textLength="93" lengthAdjust="spacingAndGlyphs">&gt;21 units per week</text>
<text x="457.6" y="148.7" font-size="12.5" fill="#12141c" stroke="#12141c" stroke-width="0.3" textLength="38" lengthAdjust="spacingAndGlyphs">Obesity</text>
<text x="257.8" y="253.5" font-size="12.5" fill="#12141c" stroke="#12141c" stroke-width="0.3" textLength="44.7" lengthAdjust="spacingAndGlyphs">Smoking</text>
<text x="207.5" y="299.5" font-size="12.5" fill="#12141c" stroke="#12141c" stroke-width="0.3" textLength="54.5" lengthAdjust="spacingAndGlyphs">Depression</text>
<text x="189" y="339.5" font-size="12.5" fill="#12141c" stroke="#12141c" stroke-width="0.3" textLength="75" lengthAdjust="spacingAndGlyphs">Social isolation</text>
<text x="187.7" y="380.6" font-size="12.5" fill="#12141c" stroke="#12141c" stroke-width="0.3" textLength="88" lengthAdjust="spacingAndGlyphs">Physical inactivity</text>
<text x="220.7" y="405.2" font-size="12.5" fill="#12141c" stroke="#12141c" stroke-width="0.3" textLength="61" lengthAdjust="spacingAndGlyphs">Air pollution</text>
<text x="260.8" y="71.9" font-size="12.0" font-weight="bold" fill="#15151b" textLength="37.7" lengthAdjust="spacingAndGlyphs">Midlife</text>
<text x="376.4" y="350.2" font-size="12.0" font-weight="bold" fill="#15151b" textLength="46" lengthAdjust="spacingAndGlyphs">Later life</text>
</g>
</svg>
</body></html>
